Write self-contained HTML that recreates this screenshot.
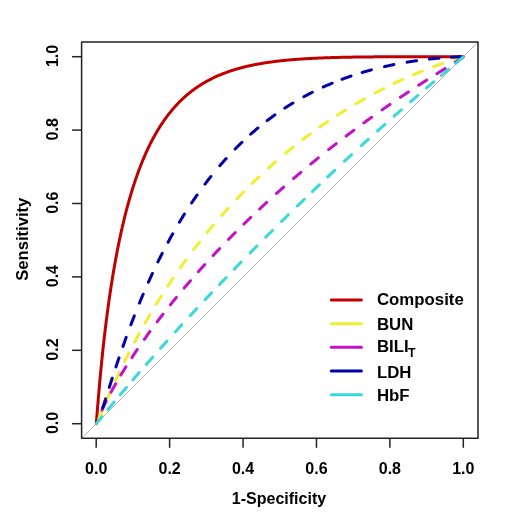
<!DOCTYPE html>
<html><head><meta charset="utf-8"><style>
html,body{margin:0;padding:0;background:#fff;}
svg{display:block;will-change:transform;}
text{font-family:"Liberation Sans",sans-serif;font-weight:bold;fill:#000;}
</style></head><body>
<svg width="520" height="520" viewBox="0 0 520 520">
<rect width="520" height="520" fill="#fff"/>
<line x1="81.6" y1="438.3" x2="478.0" y2="42.0" stroke="#b4b4b4" stroke-width="1"/>
<path d="M463.30,56.70 L463.12,56.70 L462.57,56.70 L462.02,56.70 L461.46,56.70 L460.91,56.70 L460.36,56.70 L459.81,56.70 L459.26,56.70 L458.71,56.70 L458.16,56.70 L457.61,56.70 L457.06,56.70 L456.51,56.70 L455.96,56.70 L455.41,56.70 L454.86,56.70 L454.31,56.70 L453.76,56.70 L453.20,56.70 L452.65,56.70 L452.10,56.70 L451.55,56.70 L451.00,56.70 L450.45,56.70 L449.90,56.70 L449.35,56.70 L448.80,56.70 L448.25,56.70 L447.70,56.70 L447.15,56.70 L446.60,56.70 L446.05,56.70 L445.50,56.70 L444.94,56.70 L444.39,56.70 L443.84,56.70 L443.29,56.70 L442.74,56.70 L442.19,56.70 L441.64,56.70 L441.09,56.70 L440.54,56.70 L439.99,56.70 L439.44,56.70 L438.89,56.70 L438.34,56.70 L437.79,56.70 L437.24,56.70 L436.69,56.70 L436.13,56.70 L435.58,56.70 L435.03,56.70 L434.48,56.70 L433.93,56.70 L433.38,56.70 L432.83,56.70 L432.28,56.70 L431.73,56.70 L431.18,56.70 L430.63,56.70 L430.08,56.70 L429.53,56.70 L428.98,56.70 L428.43,56.70 L427.87,56.70 L427.32,56.70 L426.77,56.71 L426.22,56.71 L425.67,56.71 L425.12,56.71 L424.57,56.71 L424.02,56.71 L423.47,56.71 L422.92,56.71 L422.37,56.71 L421.82,56.71 L421.27,56.71 L420.72,56.71 L420.17,56.71 L419.62,56.71 L419.06,56.71 L418.51,56.71 L417.96,56.71 L417.41,56.71 L416.86,56.71 L416.31,56.71 L415.76,56.71 L415.21,56.71 L414.66,56.72 L414.11,56.72 L413.56,56.72 L413.01,56.72 L412.46,56.72 L411.91,56.72 L411.36,56.72 L410.80,56.72 L410.25,56.72 L409.70,56.72 L409.15,56.72 L408.60,56.72 L408.05,56.73 L407.50,56.73 L406.95,56.73 L406.40,56.73 L405.85,56.73 L405.30,56.73 L404.75,56.73 L404.20,56.73 L403.65,56.73 L403.10,56.74 L402.54,56.74 L401.99,56.74 L401.44,56.74 L400.89,56.74 L400.34,56.74 L399.79,56.74 L399.24,56.74 L398.69,56.75 L398.14,56.75 L397.59,56.75 L397.04,56.75 L396.49,56.75 L395.94,56.75 L395.39,56.76 L394.84,56.76 L394.29,56.76 L393.73,56.76 L393.18,56.76 L392.63,56.77 L392.08,56.77 L391.53,56.77 L390.98,56.77 L390.43,56.77 L389.88,56.78 L389.33,56.78 L388.78,56.78 L388.23,56.78 L387.68,56.79 L387.13,56.79 L386.58,56.79 L386.03,56.79 L385.47,56.80 L384.92,56.80 L384.37,56.80 L383.82,56.81 L383.27,56.81 L382.72,56.81 L382.17,56.82 L381.62,56.82 L381.07,56.82 L380.52,56.83 L379.97,56.83 L379.42,56.83 L378.87,56.84 L378.32,56.84 L377.77,56.84 L377.22,56.85 L376.66,56.85 L376.11,56.86 L375.56,56.86 L375.01,56.86 L374.46,56.87 L373.91,56.87 L373.36,56.88 L372.81,56.88 L372.26,56.89 L371.71,56.89 L371.16,56.89 L370.61,56.90 L370.06,56.90 L369.51,56.91 L368.96,56.92 L368.40,56.92 L367.85,56.93 L367.30,56.93 L366.75,56.94 L366.20,56.94 L365.65,56.95 L365.10,56.95 L364.55,56.96 L364.00,56.97 L363.45,56.97 L362.90,56.98 L362.35,56.99 L361.80,56.99 L361.25,57.00 L360.70,57.01 L360.14,57.01 L359.59,57.02 L359.04,57.03 L358.49,57.03 L357.94,57.04 L357.39,57.05 L356.84,57.06 L356.29,57.07 L355.74,57.07 L355.19,57.08 L354.64,57.09 L354.09,57.10 L353.54,57.11 L352.99,57.12 L352.44,57.13 L351.89,57.13 L351.33,57.14 L350.78,57.15 L350.23,57.16 L349.68,57.17 L349.13,57.18 L348.58,57.19 L348.03,57.20 L347.48,57.21 L346.93,57.22 L346.38,57.23 L345.83,57.25 L345.28,57.26 L344.73,57.27 L344.18,57.28 L343.63,57.29 L343.07,57.30 L342.52,57.32 L341.97,57.33 L341.42,57.34 L340.87,57.35 L340.32,57.37 L339.77,57.38 L339.22,57.39 L338.67,57.41 L338.12,57.42 L337.57,57.43 L337.02,57.45 L336.47,57.46 L335.92,57.48 L335.37,57.49 L334.81,57.51 L334.26,57.52 L333.71,57.54 L333.16,57.55 L332.61,57.57 L332.06,57.59 L331.51,57.60 L330.96,57.62 L330.41,57.64 L329.86,57.66 L329.31,57.67 L328.76,57.69 L328.21,57.71 L327.66,57.73 L327.11,57.75 L326.56,57.77 L326.00,57.79 L325.45,57.81 L324.90,57.83 L324.35,57.85 L323.80,57.87 L323.25,57.89 L322.70,57.91 L322.15,57.93 L321.60,57.95 L321.05,57.97 L320.50,58.00 L319.95,58.02 L319.40,58.04 L318.85,58.07 L318.30,58.09 L317.74,58.11 L317.19,58.14 L316.64,58.16 L316.09,58.19 L315.54,58.21 L314.99,58.24 L314.44,58.27 L313.89,58.29 L313.34,58.32 L312.79,58.35 L312.24,58.38 L311.69,58.40 L311.14,58.43 L310.59,58.46 L310.04,58.49 L309.49,58.52 L308.93,58.55 L308.38,58.58 L307.83,58.61 L307.28,58.64 L306.73,58.68 L306.18,58.71 L305.63,58.74 L305.08,58.78 L304.53,58.81 L303.98,58.84 L303.43,58.88 L302.88,58.91 L302.33,58.95 L301.78,58.99 L301.23,59.02 L300.67,59.06 L300.12,59.10 L299.57,59.14 L299.02,59.17 L298.47,59.21 L297.92,59.25 L297.37,59.29 L296.82,59.33 L296.27,59.38 L295.72,59.42 L295.17,59.46 L294.62,59.50 L294.07,59.55 L293.52,59.59 L292.97,59.64 L292.41,59.68 L291.86,59.73 L291.31,59.78 L290.76,59.82 L290.21,59.87 L289.66,59.92 L289.11,59.97 L288.56,60.02 L288.01,60.07 L287.46,60.12 L286.91,60.17 L286.36,60.22 L285.81,60.28 L285.26,60.33 L284.71,60.39 L284.16,60.44 L283.60,60.50 L283.05,60.55 L282.50,60.61 L281.95,60.67 L281.40,60.73 L280.85,60.79 L280.30,60.85 L279.75,60.91 L279.20,60.97 L278.65,61.04 L278.10,61.10 L277.55,61.16 L277.00,61.23 L276.45,61.30 L275.90,61.36 L275.34,61.43 L274.79,61.50 L274.24,61.57 L273.69,61.64 L273.14,61.71 L272.59,61.78 L272.04,61.86 L271.49,61.93 L270.94,62.00 L270.39,62.08 L269.84,62.16 L269.29,62.24 L268.74,62.31 L268.19,62.39 L267.64,62.48 L267.09,62.56 L266.53,62.64 L265.98,62.72 L265.43,62.81 L264.88,62.89 L264.33,62.98 L263.78,63.07 L263.23,63.16 L262.68,63.25 L262.13,63.34 L261.58,63.43 L261.03,63.53 L260.48,63.62 L259.93,63.72 L259.38,63.82 L258.83,63.91 L258.27,64.01 L257.72,64.11 L257.17,64.22 L256.62,64.32 L256.07,64.42 L255.52,64.53 L254.97,64.64 L254.42,64.75 L253.87,64.85 L253.32,64.97 L252.77,65.08 L252.22,65.19 L251.67,65.31 L251.12,65.42 L250.57,65.54 L250.01,65.66 L249.46,65.78 L248.91,65.90 L248.36,66.03 L247.81,66.15 L247.26,66.28 L246.71,66.41 L246.16,66.54 L245.61,66.67 L245.06,66.80 L244.51,66.94 L243.96,67.07 L243.41,67.21 L242.86,67.35 L242.31,67.49 L241.76,67.64 L241.20,67.78 L240.65,67.93 L240.10,68.08 L239.55,68.23 L239.00,68.38 L238.45,68.53 L237.90,68.69 L237.35,68.84 L236.80,69.00 L236.25,69.16 L235.70,69.33 L235.15,69.49 L234.60,69.66 L234.05,69.83 L233.50,70.00 L232.94,70.17 L232.39,70.35 L231.84,70.52 L231.29,70.70 L230.74,70.88 L230.19,71.07 L229.64,71.25 L229.09,71.44 L228.54,71.63 L227.99,71.82 L227.44,72.02 L226.89,72.22 L226.34,72.41 L225.79,72.62 L225.24,72.82 L224.69,73.03 L224.13,73.24 L223.58,73.45 L223.03,73.66 L222.48,73.88 L221.93,74.10 L221.38,74.32 L220.83,74.54 L220.28,74.77 L219.73,75.00 L219.18,75.23 L218.63,75.47 L218.08,75.71 L217.53,75.95 L216.98,76.19 L216.43,76.44 L215.87,76.69 L215.32,76.94 L214.77,77.19 L214.22,77.45 L213.67,77.71 L213.12,77.98 L212.57,78.25 L212.02,78.52 L211.47,78.79 L210.92,79.07 L210.37,79.35 L209.82,79.63 L209.27,79.92 L208.72,80.21 L208.17,80.51 L207.61,80.80 L207.06,81.11 L206.51,81.41 L205.96,81.72 L205.41,82.03 L204.86,82.35 L204.31,82.67 L203.76,82.99 L203.21,83.32 L202.66,83.65 L202.11,83.98 L201.56,84.32 L201.01,84.67 L200.46,85.02 L199.91,85.37 L199.36,85.72 L198.80,86.08 L198.25,86.45 L197.70,86.82 L197.15,87.19 L196.60,87.57 L196.05,87.95 L195.50,88.34 L194.95,88.73 L194.40,89.13 L193.85,89.53 L193.30,89.93 L192.75,90.34 L192.20,90.76 L191.65,91.18 L191.10,91.61 L190.54,92.04 L189.99,92.47 L189.44,92.92 L188.89,93.36 L188.34,93.81 L187.79,94.27 L187.24,94.74 L186.69,95.21 L186.14,95.68 L185.59,96.16 L185.04,96.65 L184.49,97.14 L183.94,97.64 L183.39,98.14 L183.02,98.48 L182.65,98.83 L182.28,99.17 L181.92,99.52 L181.55,99.87 L181.18,100.23 L180.82,100.58 L180.45,100.94 L180.08,101.31 L179.72,101.67 L179.35,102.04 L178.98,102.41 L178.61,102.79 L178.25,103.17 L177.88,103.55 L177.51,103.93 L177.15,104.32 L176.78,104.71 L176.41,105.10 L176.04,105.50 L175.68,105.90 L175.31,106.31 L174.94,106.71 L174.58,107.12 L174.21,107.54 L173.84,107.96 L173.47,108.38 L173.11,108.80 L172.74,109.23 L172.37,109.66 L172.01,110.10 L171.64,110.54 L171.27,110.98 L170.90,111.43 L170.54,111.88 L170.17,112.33 L169.80,112.79 L169.44,113.25 L169.07,113.72 L168.70,114.19 L168.34,114.66 L167.97,115.14 L167.60,115.62 L167.23,116.11 L166.87,116.60 L166.50,117.09 L166.13,117.59 L165.77,118.09 L165.40,118.60 L165.03,119.11 L164.66,119.62 L164.30,120.15 L163.93,120.67 L163.56,121.20 L163.20,121.73 L162.83,122.27 L162.46,122.81 L162.09,123.36 L161.73,123.92 L161.36,124.47 L160.99,125.04 L160.63,125.60 L160.26,126.17 L159.89,126.75 L159.52,127.33 L159.16,127.92 L158.79,128.51 L158.42,129.11 L158.06,129.72 L157.69,130.32 L157.32,130.94 L156.96,131.56 L156.59,132.18 L156.22,132.81 L155.85,133.45 L155.49,134.09 L155.12,134.74 L154.75,135.39 L154.38,136.06 L154.02,136.72 L153.65,137.39 L153.28,138.06 L152.92,138.75 L152.55,139.44 L152.18,140.13 L151.82,140.83 L151.45,141.54 L151.08,142.26 L150.71,142.98 L150.35,143.71 L149.98,144.44 L149.61,145.18 L149.25,145.93 L148.88,146.69 L148.51,147.45 L148.14,148.22 L147.78,149.00 L147.41,149.78 L147.04,150.57 L146.68,151.37 L146.31,152.18 L145.94,152.99 L145.57,153.81 L145.21,154.64 L144.84,155.48 L144.47,156.33 L144.11,157.18 L143.74,158.04 L143.37,158.91 L143.01,159.79 L142.64,160.67 L142.42,161.22 L142.09,162.02 L141.72,162.93 L141.35,163.85 L140.99,164.77 L140.80,165.24 L140.62,165.71 L140.44,166.18 L140.25,166.65 L140.07,167.13 L139.88,167.60 L139.70,168.08 L139.52,168.57 L139.33,169.05 L139.15,169.54 L138.97,170.03 L138.78,170.52 L138.60,171.02 L138.42,171.51 L138.23,172.01 L138.05,172.52 L137.87,173.02 L137.68,173.53 L137.50,174.04 L137.32,174.55 L137.13,175.06 L136.95,175.58 L136.76,176.10 L136.58,176.62 L136.40,177.15 L136.21,177.68 L136.03,178.21 L135.85,178.74 L135.66,179.28 L135.48,179.82 L135.30,180.36 L135.11,180.90 L134.93,181.45 L134.75,182.00 L134.56,182.55 L134.38,183.11 L134.19,183.66 L134.01,184.22 L133.83,184.79 L133.64,185.36 L133.46,185.93 L133.28,186.50 L133.09,187.07 L132.91,187.65 L132.73,188.24 L132.54,188.82 L132.36,189.41 L132.18,190.00 L131.99,190.59 L131.81,191.19 L131.63,191.79 L131.44,192.40 L131.26,193.00 L131.07,193.61 L130.89,194.23 L130.71,194.84 L130.52,195.46 L130.34,196.09 L130.16,196.71 L129.97,197.34 L129.79,197.98 L129.61,198.61 L129.42,199.25 L129.24,199.90 L129.06,200.54 L128.87,201.19 L128.69,201.85 L128.50,202.51 L128.32,203.17 L128.14,203.83 L127.95,204.50 L127.77,205.17 L127.59,205.85 L127.40,206.53 L127.22,207.21 L127.04,207.90 L126.85,208.59 L126.67,209.28 L126.49,209.98 L126.30,210.69 L126.12,211.39 L125.94,212.10 L125.75,212.82 L125.57,213.54 L125.36,214.36 L125.20,214.99 L125.02,215.72 L124.83,216.45 L124.65,217.19 L124.47,217.93 L124.28,218.68 L124.10,219.43 L123.92,220.19 L123.73,220.95 L123.55,221.72 L123.37,222.49 L123.18,223.26 L123.00,224.04 L122.81,224.82 L122.63,225.61 L122.45,226.40 L122.26,227.20 L122.08,228.00 L121.90,228.81 L121.71,229.62 L121.53,230.44 L121.35,231.26 L121.16,232.08 L120.98,232.91 L120.80,233.75 L120.61,234.59 L120.43,235.44 L120.25,236.29 L120.06,237.15 L119.88,238.01 L119.69,238.87 L119.51,239.75 L119.33,240.62 L119.14,241.51 L118.96,242.40 L118.78,243.29 L118.59,244.19 L118.41,245.10 L118.23,246.01 L118.04,246.92 L117.86,247.85 L117.68,248.77 L117.49,249.71 L117.31,250.65 L117.12,251.60 L116.94,252.55 L116.76,253.51 L116.57,254.47 L116.39,255.44 L116.21,256.42 L116.02,257.40 L115.84,258.39 L115.66,259.39 L115.47,260.39 L115.29,261.40 L115.11,262.42 L114.92,263.44 L114.74,264.47 L114.56,265.51 L114.37,266.55 L114.19,267.60 L114.00,268.66 L113.82,269.73 L113.64,270.80 L113.45,271.88 L113.27,272.97 L113.09,274.06 L112.90,275.17 L112.72,276.28 L112.54,277.40 L112.35,278.52 L112.17,279.66 L111.99,280.80 L111.80,281.95 L111.62,283.11 L111.43,284.27 L111.25,285.45 L111.07,286.63 L110.81,288.28 L110.70,289.03 L110.52,290.24 L110.33,291.46 L110.15,292.68 L109.97,293.92 L109.78,295.17 L109.60,296.42 L109.42,297.69 L109.23,298.96 L109.05,300.25 L108.86,301.54 L108.68,302.85 L108.50,304.16 L108.31,305.49 L108.13,306.82 L107.95,308.17 L107.76,309.53 L107.58,310.89 L107.40,312.27 L107.21,313.66 L107.03,315.06 L106.85,316.47 L106.66,317.90 L106.48,319.33 L106.30,320.78 L106.11,322.24 L105.93,323.71 L105.74,325.20 L105.56,326.70 L105.38,328.20 L105.19,329.73 L105.01,331.26 L104.83,332.81 L104.64,334.38 L104.46,335.95 L104.28,337.54 L104.09,339.15 L103.91,340.77 L103.73,342.40 L103.52,344.21 L103.36,345.72 L103.17,347.40 L102.99,349.09 L102.81,350.81 L102.62,352.53 L102.44,354.28 L102.26,356.04 L102.07,357.82 L102.02,358.36 L101.89,359.62 L101.71,361.43 L101.52,363.26 L101.34,365.11 L101.16,366.98 L100.97,368.87 L100.79,370.77 L100.61,372.70 L100.42,374.65 L100.24,376.61 L100.05,378.60 L99.87,380.61 L99.69,382.64 L99.50,384.69 L99.32,386.76 L99.12,389.09 L98.95,390.97 L98.77,393.11 L98.59,395.27 L98.52,396.10 L98.40,397.45 L98.22,399.65 L98.04,401.88 L97.85,404.12 L97.66,406.47 L97.48,408.66 L97.36,410.20 L97.30,410.95 L97.12,413.24 L96.93,415.55 L96.75,417.80 L96.66,418.88 L96.57,420.02 L96.49,420.90 L96.43,421.58 L96.35,422.49 L96.27,423.20 L96.20,423.70" stroke="#C00000" stroke-width="3.0" fill="none" stroke-linecap="round" stroke-linejoin="round"/>
<path d="M463.30,56.70 L462.93,56.90 L462.38,57.10 L461.83,57.29 L461.28,57.47 L460.73,57.64 L460.18,57.82 L459.63,57.99 L459.08,58.16 L458.53,58.33 L457.98,58.50 L457.43,58.67 L456.88,58.85 L456.33,59.02 L455.77,59.19 L455.22,59.36 L454.67,59.54 L454.12,59.71 L453.57,59.88 L453.02,60.06 L452.47,60.23 L451.92,60.41 L451.37,60.59 L450.82,60.77 L450.27,60.94 L449.72,61.12 L449.17,61.30 L448.62,61.48 L448.07,61.67 L447.51,61.85 L446.96,62.03 L446.41,62.22 L445.86,62.40 L445.31,62.59 L444.76,62.77 L444.21,62.96 L443.66,63.15 L443.11,63.34 L442.56,63.53 L442.01,63.72 L441.46,63.91 L440.91,64.10 L440.36,64.29 L439.81,64.49 L439.25,64.68 L438.70,64.88 L438.15,65.07 L437.60,65.27 L437.05,65.47 L436.50,65.67 L435.95,65.87 L435.40,66.07 L434.85,66.27 L434.30,66.47 L433.75,66.67 L433.20,66.88 L432.65,67.08 L432.10,67.29 L431.55,67.49 L431.00,67.70 L430.44,67.91 L429.89,68.11 L429.34,68.32 L428.79,68.53 L428.24,68.75 L427.69,68.96 L427.14,69.17 L426.59,69.38 L426.04,69.60 L425.49,69.81 L424.94,70.03 L424.39,70.25 L423.84,70.46 L423.29,70.68 L422.74,70.90 L422.18,71.12 L421.63,71.34 L421.08,71.56 L420.53,71.79 L419.98,72.01 L419.43,72.23 L418.88,72.46 L418.33,72.69 L417.78,72.91 L417.23,73.14 L416.68,73.37 L416.13,73.60 L415.58,73.83 L415.03,74.06 L414.48,74.29 L413.93,74.52 L413.37,74.76 L412.82,74.99 L412.27,75.23 L411.72,75.46 L411.17,75.70 L410.62,75.94 L410.07,76.17 L409.52,76.41 L408.97,76.65 L408.42,76.89 L407.87,77.13 L407.32,77.38 L406.77,77.62 L406.22,77.86 L405.67,78.11 L405.11,78.36 L404.56,78.60 L404.01,78.85 L403.46,79.10 L402.91,79.35 L402.36,79.60 L401.81,79.85 L401.26,80.10 L400.71,80.35 L400.16,80.60 L399.61,80.86 L399.06,81.11 L398.51,81.37 L397.96,81.63 L397.41,81.88 L396.85,82.14 L396.30,82.40 L395.75,82.66 L395.20,82.92 L394.65,83.18 L394.10,83.45 L393.55,83.71 L393.00,83.97 L392.45,84.24 L391.90,84.50 L391.35,84.77 L390.80,85.04 L390.25,85.31 L389.70,85.58 L389.15,85.85 L388.60,86.12 L388.04,86.39 L387.49,86.66 L386.94,86.94 L386.39,87.21 L385.84,87.49 L385.29,87.76 L384.74,88.04 L384.19,88.32 L383.64,88.59 L383.09,88.87 L382.54,89.15 L381.99,89.44 L381.44,89.72 L380.89,90.00 L380.34,90.28 L379.78,90.57 L379.23,90.85 L378.68,91.14 L378.13,91.43 L377.58,91.72 L377.03,92.01 L376.48,92.30 L375.93,92.59 L375.38,92.88 L374.83,93.17 L374.28,93.46 L373.73,93.76 L373.18,94.05 L372.63,94.35 L372.08,94.65 L371.53,94.94 L370.97,95.24 L370.42,95.54 L369.87,95.84 L369.32,96.14 L368.77,96.45 L368.22,96.75 L367.67,97.05 L367.12,97.36 L366.57,97.66 L366.02,97.97 L365.47,98.28 L364.92,98.59 L364.37,98.90 L363.82,99.21 L363.27,99.52 L362.71,99.83 L362.16,100.14 L361.61,100.46 L361.06,100.77 L360.51,101.09 L359.96,101.40 L359.41,101.72 L358.86,102.04 L358.31,102.36 L357.76,102.68 L357.21,103.00 L356.66,103.32 L356.11,103.65 L355.56,103.97 L355.01,104.29 L354.45,104.62 L353.90,104.95 L353.35,105.27 L352.80,105.60 L352.25,105.93 L351.70,106.26 L351.15,106.59 L350.60,106.93 L350.05,107.26 L349.50,107.59 L348.95,107.93 L348.40,108.26 L347.85,108.60 L347.30,108.94 L346.75,109.28 L346.20,109.62 L345.64,109.96 L345.09,110.30 L344.54,110.64 L343.99,110.99 L343.44,111.33 L342.89,111.68 L342.34,112.02 L341.79,112.37 L341.24,112.72 L340.69,113.07 L340.14,113.42 L339.59,113.77 L339.04,114.12 L338.49,114.48 L337.94,114.83 L337.38,115.19 L336.83,115.54 L336.28,115.90 L335.73,116.26 L335.18,116.62 L334.63,116.98 L334.08,117.34 L333.53,117.70 L332.98,118.06 L332.43,118.43 L331.88,118.79 L331.33,119.16 L330.78,119.52 L330.23,119.89 L329.68,120.26 L329.12,120.63 L328.57,121.00 L328.02,121.37 L327.47,121.75 L326.92,122.12 L326.37,122.50 L325.82,122.87 L325.27,123.25 L324.72,123.63 L324.17,124.01 L323.62,124.39 L323.07,124.77 L322.52,125.15 L321.97,125.53 L321.42,125.92 L320.87,126.30 L320.31,126.69 L319.76,127.08 L319.21,127.46 L318.66,127.85 L318.11,128.24 L317.56,128.64 L317.01,129.03 L316.46,129.42 L315.91,129.82 L315.36,130.21 L314.81,130.61 L314.26,131.01 L313.71,131.41 L313.16,131.81 L312.61,132.21 L312.05,132.61 L311.50,133.01 L310.95,133.42 L310.40,133.82 L309.85,134.23 L309.30,134.64 L308.75,135.05 L308.20,135.46 L307.65,135.87 L307.10,136.28 L306.55,136.69 L306.00,137.11 L305.45,137.52 L304.90,137.94 L304.35,138.35 L303.80,138.77 L303.24,139.19 L302.69,139.61 L302.14,140.03 L301.59,140.46 L301.04,140.88 L300.49,141.31 L299.94,141.73 L299.39,142.16 L298.84,142.59 L298.29,143.02 L297.74,143.45 L297.19,143.88 L296.64,144.32 L296.09,144.75 L295.54,145.19 L294.98,145.62 L294.43,146.06 L293.88,146.50 L293.33,146.94 L292.78,147.38 L292.23,147.82 L291.68,148.27 L291.13,148.71 L290.58,149.16 L290.03,149.60 L289.48,150.05 L288.93,150.50 L288.38,150.95 L287.83,151.40 L287.28,151.86 L286.72,152.31 L286.17,152.77 L285.62,153.22 L285.07,153.68 L284.52,154.14 L283.97,154.60 L283.42,155.06 L282.87,155.52 L282.32,155.99 L281.77,156.45 L281.22,156.92 L280.67,157.39 L280.19,157.80 L279.75,158.17 L279.20,158.64 L278.65,159.11 L278.10,159.59 L277.55,160.06 L277.00,160.54 L276.45,161.01 L275.90,161.49 L275.34,161.97 L274.79,162.45 L274.24,162.94 L273.69,163.42 L273.14,163.90 L272.59,164.39 L272.04,164.88 L271.49,165.37 L270.94,165.86 L270.39,166.35 L269.84,166.84 L269.29,167.33 L268.74,167.83 L268.19,168.33 L267.64,168.82 L267.09,169.32 L266.53,169.82 L265.98,170.32 L265.43,170.83 L264.88,171.33 L264.33,171.84 L263.78,172.34 L263.23,172.85 L262.86,173.19 L262.50,173.53 L262.13,173.87 L261.76,174.22 L261.40,174.56 L261.03,174.90 L260.66,175.24 L260.29,175.59 L259.93,175.93 L259.56,176.28 L259.19,176.62 L258.83,176.97 L258.46,177.32 L258.09,177.66 L257.72,178.01 L257.36,178.36 L256.99,178.71 L256.62,179.06 L256.26,179.41 L255.89,179.76 L255.52,180.11 L255.15,180.47 L254.79,180.82 L254.42,181.17 L254.05,181.53 L253.69,181.88 L253.32,182.24 L252.95,182.60 L252.58,182.95 L252.22,183.31 L251.85,183.67 L251.48,184.03 L251.12,184.39 L250.75,184.75 L250.38,185.11 L250.01,185.47 L249.65,185.83 L249.28,186.19 L248.91,186.56 L248.55,186.92 L248.18,187.29 L247.81,187.65 L247.45,188.02 L247.08,188.39 L246.71,188.75 L246.34,189.12 L245.98,189.49 L245.61,189.86 L245.24,190.23 L244.88,190.60 L244.51,190.97 L244.14,191.34 L243.77,191.72 L243.41,192.09 L243.04,192.46 L242.67,192.84 L242.31,193.21 L241.94,193.59 L241.57,193.97 L241.20,194.34 L240.84,194.72 L240.47,195.10 L240.10,195.48 L239.74,195.86 L239.37,196.24 L239.00,196.62 L238.63,197.00 L238.27,197.39 L237.90,197.77 L237.53,198.15 L237.17,198.54 L236.80,198.93 L236.43,199.31 L236.07,199.70 L235.70,200.09 L235.33,200.47 L234.96,200.86 L234.60,201.25 L234.23,201.64 L233.86,202.04 L233.50,202.43 L233.13,202.82 L232.76,203.21 L232.39,203.61 L232.03,204.00 L231.66,204.40 L231.29,204.80 L230.93,205.19 L230.56,205.59 L230.19,205.99 L229.82,206.39 L229.46,206.79 L229.09,207.19 L228.72,207.59 L228.36,207.99 L227.99,208.39 L227.62,208.80 L227.25,209.20 L226.89,209.61 L226.52,210.01 L226.15,210.42 L225.79,210.83 L225.42,211.24 L225.05,211.64 L224.69,212.05 L224.32,212.46 L223.95,212.88 L223.58,213.29 L223.22,213.70 L222.85,214.11 L222.48,214.53 L222.12,214.94 L221.75,215.36 L221.38,215.78 L221.01,216.19 L220.65,216.61 L220.28,217.03 L219.91,217.45 L219.55,217.87 L219.18,218.29 L218.81,218.71 L218.44,219.14 L218.08,219.56 L217.71,219.98 L217.34,220.41 L216.98,220.83 L216.61,221.26 L216.24,221.69 L215.87,222.12 L215.51,222.55 L215.14,222.98 L214.77,223.41 L214.41,223.84 L214.04,224.27 L213.67,224.70 L213.30,225.14 L212.94,225.57 L212.57,226.01 L212.20,226.44 L211.84,226.88 L211.47,227.32 L211.10,227.76 L210.74,228.20 L210.37,228.64 L210.00,229.08 L209.63,229.52 L209.27,229.97 L208.90,230.41 L208.53,230.86 L208.17,231.30 L207.80,231.75 L207.43,232.19 L207.06,232.64 L206.70,233.09 L206.33,233.54 L205.96,233.99 L205.60,234.44 L205.23,234.90 L204.86,235.35 L204.49,235.80 L204.13,236.26 L203.76,236.72 L203.39,237.17 L203.03,237.63 L202.66,238.09 L202.29,238.55 L201.92,239.01 L201.56,239.47 L201.19,239.93 L200.82,240.40 L200.46,240.86 L200.09,241.32 L199.72,241.79 L199.36,242.26 L198.99,242.72 L198.62,243.19 L198.25,243.66 L197.89,244.13 L197.52,244.60 L197.15,245.08 L196.79,245.55 L196.42,246.02 L196.05,246.50 L195.68,246.97 L195.32,247.45 L194.95,247.93 L194.58,248.41 L194.22,248.89 L193.85,249.37 L193.48,249.85 L193.11,250.33 L192.75,250.82 L192.38,251.30 L192.01,251.79 L191.65,252.27 L191.28,252.76 L190.91,253.25 L190.54,253.74 L190.18,254.23 L189.81,254.72 L189.44,255.21 L189.08,255.71 L188.71,256.20 L188.34,256.69 L187.98,257.19 L187.61,257.69 L187.24,258.19 L186.87,258.69 L186.51,259.19 L186.14,259.69 L185.77,260.19 L185.41,260.69 L185.04,261.20 L184.67,261.70 L184.30,262.21 L183.94,262.72 L183.57,263.22 L183.20,263.73 L182.84,264.24 L182.47,264.76 L182.10,265.27 L181.73,265.78 L181.37,266.30 L181.00,266.81 L180.63,267.33 L180.27,267.85 L179.90,268.37 L179.53,268.89 L179.16,269.41 L178.80,269.93 L178.43,270.45 L178.06,270.98 L177.70,271.50 L177.33,272.03 L176.96,272.56 L176.59,273.09 L176.23,273.62 L175.86,274.15 L175.49,274.68 L175.13,275.21 L174.76,275.75 L174.39,276.28 L174.03,276.82 L173.66,277.36 L173.29,277.90 L172.92,278.44 L172.56,278.98 L172.19,279.52 L171.82,280.06 L171.46,280.61 L171.09,281.15 L170.72,281.70 L170.35,282.25 L169.99,282.80 L169.62,283.35 L169.25,283.90 L168.89,284.45 L168.52,285.01 L168.15,285.56 L167.78,286.12 L167.42,286.68 L167.05,287.24 L166.68,287.80 L166.32,288.36 L165.95,288.92 L165.58,289.48 L165.21,290.05 L164.85,290.61 L164.48,291.18 L164.11,291.75 L163.75,292.32 L163.38,292.89 L163.01,293.46 L162.65,294.04 L162.28,294.61 L161.91,295.19 L161.54,295.77 L161.18,296.35 L160.81,296.93 L160.44,297.51 L160.08,298.09 L159.71,298.67 L159.34,299.26 L158.97,299.85 L158.61,300.44 L158.24,301.02 L157.87,301.62 L157.51,302.21 L157.14,302.80 L156.77,303.40 L156.40,303.99 L156.04,304.59 L155.67,305.19 L155.30,305.79 L154.94,306.39 L154.57,306.99 L154.20,307.60 L153.83,308.20 L153.47,308.81 L153.10,309.42 L152.73,310.03 L152.37,310.64 L152.00,311.25 L151.63,311.87 L151.27,312.48 L150.90,313.10 L150.53,313.72 L150.16,314.34 L149.80,314.96 L149.43,315.58 L149.06,316.21 L148.70,316.83 L148.33,317.46 L147.96,318.09 L147.59,318.72 L147.23,319.35 L146.86,319.99 L146.49,320.62 L146.13,321.26 L145.76,321.90 L145.39,322.54 L145.02,323.18 L144.66,323.82 L144.29,324.46 L143.92,325.11 L143.56,325.76 L143.19,326.41 L142.82,327.06 L142.42,327.78 L142.09,328.36 L141.72,329.02 L141.35,329.67 L140.99,330.33 L140.62,330.99 L140.25,331.66 L139.88,332.32 L139.52,332.98 L139.15,333.65 L138.78,334.32 L138.42,334.99 L138.05,335.66 L137.68,336.34 L137.32,337.01 L136.95,337.69 L136.58,338.37 L136.21,339.05 L135.85,339.73 L135.48,340.42 L135.11,341.10 L134.75,341.79 L134.38,342.48 L134.01,343.17 L133.64,343.86 L133.28,344.56 L132.91,345.25 L132.54,345.95 L132.18,346.65 L131.81,347.36 L131.44,348.06 L131.07,348.77 L130.71,349.47 L130.34,350.18 L129.97,350.89 L129.61,351.61 L129.24,352.32 L128.87,353.04 L128.50,353.76 L128.14,354.48 L127.77,355.20 L127.40,355.93 L127.04,356.66 L126.67,357.38 L126.30,358.12 L125.94,358.85 L125.57,359.58 L125.20,360.32 L124.83,361.06 L124.47,361.80 L124.10,362.54 L123.73,363.29 L123.37,364.04 L123.00,364.78 L122.63,365.54 L122.26,366.29 L121.90,367.04 L121.53,367.80 L121.16,368.56 L120.80,369.32 L120.43,370.09 L120.06,370.85 L119.69,371.62 L119.33,372.39 L118.96,373.17 L118.59,373.94 L118.23,374.72 L117.86,375.50 L117.49,376.28 L117.12,377.06 L116.76,377.85 L116.39,378.64 L116.02,379.43 L115.66,380.22 L115.29,381.01 L114.92,381.81 L114.60,382.52 L114.37,383.01 L114.00,383.81 L113.64,384.62 L113.27,385.43 L112.90,386.24 L112.54,387.05 L112.17,387.86 L111.80,388.68 L111.43,389.50 L111.07,390.32 L110.70,391.14 L110.33,391.97 L109.97,392.80 L109.60,393.63 L109.23,394.46 L108.86,395.29 L108.50,396.13 L108.13,396.97 L107.81,397.70 L107.58,398.23 L107.21,399.07 L106.85,399.92 L106.48,400.76 L106.11,401.61 L105.74,402.47 L105.42,403.22 L105.19,403.74 L104.83,404.60 L104.46,405.46 L104.09,406.31 L103.73,407.17 L103.36,408.03 L102.99,408.89 L102.62,409.76 L102.26,410.62 L101.89,411.48 L101.52,412.34 L101.16,413.20 L100.79,414.06 L100.42,414.91 L100.05,415.77 L99.69,416.61 L99.32,417.46 L99.12,417.92 L98.77,418.71 L98.40,419.53 L98.04,420.34 L97.66,421.14 L97.30,421.88 L96.93,422.60 L96.57,423.25 L96.20,423.70" stroke="#F0EE30" stroke-width="3.0" fill="none" stroke-linecap="round" stroke-linejoin="round" stroke-dasharray="9.60 12.31 9.60 12.28 9.60 11.65 9.60 11.40 9.60 12.50 9.60 12.30 9.60 11.46 9.60 11.78 9.60 12.29 9.60 13.05 9.60 12.72 9.60 12.11 9.60 12.92 9.60 12.78 9.60 12.35 9.60 12.85 9.60 12.58 9.60 11.98 9.60 12.07 9.60 12.29 9.60 12.21 9.60 11.98 9.60 11.34 9.60 10.77 9.60 5000.00" stroke-dashoffset="0.30"/>
<path d="M463.30,56.70 L463.12,56.93 L462.57,57.40 L462.02,57.81 L461.46,58.21 L460.91,58.59 L460.36,58.96 L459.81,59.33 L459.26,59.69 L458.71,60.05 L458.16,60.41 L457.61,60.76 L457.06,61.11 L456.51,61.46 L455.96,61.81 L455.41,62.16 L454.86,62.51 L454.31,62.85 L453.76,63.20 L453.20,63.54 L452.65,63.88 L452.10,64.23 L451.55,64.57 L451.00,64.91 L450.45,65.25 L449.90,65.59 L449.35,65.94 L448.80,66.28 L448.25,66.62 L447.70,66.96 L447.15,67.30 L446.60,67.64 L446.05,67.98 L445.50,68.32 L444.94,68.67 L444.39,69.01 L443.84,69.35 L443.29,69.69 L442.74,70.03 L442.19,70.37 L441.64,70.72 L441.09,71.06 L440.54,71.40 L439.99,71.74 L439.44,72.09 L438.89,72.43 L438.34,72.77 L437.79,73.12 L437.24,73.46 L436.69,73.81 L436.13,74.15 L435.58,74.50 L435.03,74.84 L434.48,75.19 L433.93,75.53 L433.38,75.88 L432.83,76.22 L432.28,76.57 L431.73,76.92 L431.18,77.26 L430.63,77.61 L430.08,77.96 L429.53,78.31 L428.98,78.66 L428.43,79.01 L427.87,79.36 L427.32,79.71 L426.77,80.06 L426.22,80.41 L425.67,80.76 L425.12,81.11 L424.57,81.46 L424.02,81.81 L423.47,82.16 L422.92,82.52 L422.37,82.87 L421.82,83.22 L421.27,83.58 L420.72,83.93 L420.17,84.29 L419.62,84.64 L419.06,85.00 L418.51,85.35 L417.96,85.71 L417.41,86.07 L416.86,86.42 L416.31,86.78 L415.76,87.14 L415.21,87.50 L414.66,87.86 L414.11,88.21 L413.56,88.57 L413.01,88.93 L412.46,89.29 L411.91,89.66 L411.36,90.02 L410.80,90.38 L410.25,90.74 L409.70,91.10 L409.15,91.47 L408.60,91.83 L408.05,92.19 L407.50,92.56 L406.95,92.92 L406.40,93.29 L405.85,93.65 L405.30,94.02 L404.75,94.39 L404.20,94.75 L403.65,95.12 L403.10,95.49 L402.54,95.86 L401.99,96.22 L401.44,96.59 L400.89,96.96 L400.34,97.33 L399.79,97.70 L399.24,98.07 L398.69,98.44 L398.14,98.82 L397.59,99.19 L397.04,99.56 L396.49,99.93 L395.94,100.31 L395.39,100.68 L394.84,101.06 L394.29,101.43 L393.73,101.81 L393.18,102.18 L392.63,102.56 L392.08,102.94 L391.53,103.31 L390.98,103.69 L390.43,104.07 L389.88,104.45 L389.33,104.83 L388.78,105.21 L388.23,105.59 L387.80,105.88 L387.31,106.22 L386.76,106.60 L386.21,106.98 L385.66,107.36 L385.11,107.75 L384.56,108.13 L384.01,108.51 L383.46,108.90 L382.91,109.28 L382.35,109.67 L381.80,110.05 L381.25,110.44 L380.70,110.82 L380.15,111.21 L379.60,111.60 L379.05,111.99 L378.50,112.38 L377.95,112.76 L377.40,113.15 L376.85,113.54 L376.30,113.93 L375.75,114.32 L375.20,114.71 L374.65,115.11 L374.09,115.50 L373.54,115.89 L372.99,116.28 L372.44,116.68 L371.89,117.07 L371.34,117.47 L370.79,117.86 L370.24,118.26 L369.69,118.65 L369.14,119.05 L368.59,119.45 L368.04,119.84 L367.49,120.24 L366.94,120.64 L366.39,121.04 L365.83,121.44 L365.28,121.84 L364.73,122.24 L364.18,122.64 L363.63,123.04 L363.08,123.44 L362.53,123.85 L361.98,124.25 L361.43,124.65 L360.88,125.06 L360.33,125.46 L359.78,125.87 L359.23,126.27 L358.68,126.68 L358.13,127.08 L357.58,127.49 L357.02,127.90 L356.47,128.31 L355.92,128.72 L355.37,129.12 L354.82,129.53 L354.27,129.94 L353.72,130.36 L353.17,130.77 L352.62,131.18 L352.07,131.59 L351.52,132.00 L350.97,132.42 L350.42,132.83 L349.87,133.24 L349.32,133.66 L348.76,134.07 L348.21,134.49 L347.66,134.91 L347.11,135.32 L346.56,135.74 L346.01,136.16 L345.46,136.58 L344.91,137.00 L344.36,137.42 L343.81,137.84 L343.26,138.26 L342.71,138.68 L342.16,139.10 L341.61,139.52 L341.06,139.94 L340.51,140.37 L339.95,140.79 L339.40,141.21 L338.85,141.64 L338.30,142.06 L337.75,142.49 L337.20,142.92 L336.65,143.34 L336.10,143.77 L335.55,144.20 L335.00,144.63 L334.45,145.06 L333.90,145.49 L333.35,145.92 L332.80,146.35 L332.25,146.78 L331.69,147.21 L331.14,147.64 L330.59,148.08 L330.04,148.51 L329.49,148.94 L328.94,149.38 L328.39,149.81 L327.82,150.26 L327.29,150.69 L326.74,151.12 L326.19,151.56 L325.64,152.00 L325.09,152.44 L324.54,152.88 L323.99,153.32 L323.43,153.76 L322.88,154.20 L322.33,154.64 L321.78,155.08 L321.23,155.52 L320.68,155.97 L320.13,156.41 L319.58,156.86 L319.03,157.30 L318.48,157.75 L317.93,158.19 L317.38,158.64 L316.83,159.09 L316.28,159.53 L315.73,159.98 L315.18,160.43 L314.62,160.88 L314.07,161.33 L313.52,161.78 L312.97,162.23 L312.42,162.68 L311.87,163.14 L311.32,163.59 L310.77,164.04 L310.22,164.50 L309.67,164.95 L309.12,165.41 L308.57,165.86 L308.02,166.32 L307.47,166.78 L306.92,167.24 L306.36,167.69 L305.81,168.15 L305.26,168.61 L304.71,169.07 L304.16,169.53 L303.61,170.00 L303.06,170.46 L302.51,170.92 L301.96,171.38 L301.41,171.85 L300.86,172.31 L300.31,172.78 L299.76,173.24 L299.21,173.71 L298.66,174.18 L298.11,174.65 L297.55,175.11 L297.00,175.58 L296.45,176.05 L295.90,176.52 L295.35,176.99 L294.80,177.46 L294.25,177.94 L293.70,178.41 L293.15,178.88 L292.60,179.36 L292.05,179.83 L291.50,180.31 L290.95,180.78 L290.40,181.26 L289.85,181.74 L289.29,182.21 L288.74,182.69 L288.19,183.17 L287.64,183.65 L287.09,184.13 L286.54,184.61 L285.99,185.10 L285.44,185.58 L284.89,186.06 L284.34,186.55 L283.79,187.03 L283.24,187.52 L282.69,188.00 L282.14,188.49 L281.59,188.97 L281.03,189.46 L280.48,189.95 L279.93,190.44 L279.38,190.93 L278.83,191.42 L278.28,191.91 L277.73,192.40 L277.18,192.90 L276.63,193.39 L276.08,193.88 L275.53,194.38 L274.98,194.87 L274.43,195.37 L273.88,195.87 L273.33,196.36 L272.78,196.86 L272.22,197.36 L271.67,197.86 L271.12,198.36 L270.57,198.86 L270.02,199.36 L269.47,199.87 L268.92,200.37 L268.37,200.87 L267.82,201.38 L267.27,201.88 L266.72,202.39 L266.17,202.90 L265.62,203.40 L265.07,203.91 L264.52,204.42 L264.15,204.76 L263.78,205.10 L263.41,205.44 L263.05,205.78 L262.68,206.12 L262.31,206.46 L261.95,206.81 L261.58,207.15 L261.21,207.49 L260.84,207.83 L260.48,208.18 L260.11,208.52 L259.74,208.86 L259.38,209.21 L259.01,209.55 L258.64,209.90 L258.27,210.24 L257.91,210.59 L257.54,210.93 L257.17,211.28 L256.81,211.62 L256.44,211.97 L256.07,212.32 L255.70,212.67 L255.34,213.01 L254.97,213.36 L254.60,213.71 L254.24,214.06 L253.87,214.41 L253.50,214.76 L253.14,215.11 L252.77,215.46 L252.40,215.81 L252.03,216.16 L251.67,216.51 L251.30,216.86 L250.93,217.21 L250.57,217.57 L250.20,217.92 L249.83,218.27 L249.46,218.62 L249.10,218.98 L248.73,219.33 L248.36,219.69 L248.00,220.04 L247.63,220.40 L247.26,220.75 L246.89,221.11 L246.53,221.46 L246.16,221.82 L245.79,222.18 L245.43,222.54 L245.06,222.89 L244.69,223.25 L244.32,223.61 L243.96,223.97 L243.59,224.33 L243.22,224.69 L242.86,225.05 L242.49,225.41 L242.12,225.77 L241.76,226.13 L241.39,226.49 L241.02,226.85 L240.65,227.21 L240.29,227.58 L239.92,227.94 L239.55,228.30 L239.19,228.67 L238.82,229.03 L238.45,229.39 L238.08,229.76 L237.72,230.12 L237.35,230.49 L236.98,230.85 L236.62,231.22 L236.25,231.59 L235.88,231.95 L235.51,232.32 L235.15,232.69 L234.78,233.06 L234.41,233.43 L234.05,233.80 L233.68,234.16 L233.31,234.53 L232.94,234.90 L232.58,235.27 L232.21,235.65 L231.84,236.02 L231.48,236.39 L231.11,236.76 L230.74,237.13 L230.38,237.51 L230.01,237.88 L229.64,238.25 L229.27,238.63 L228.91,239.00 L228.54,239.38 L228.17,239.75 L227.81,240.13 L227.44,240.50 L227.07,240.88 L226.70,241.26 L226.34,241.63 L225.97,242.01 L225.60,242.39 L225.24,242.77 L224.87,243.15 L224.50,243.53 L224.13,243.91 L223.77,244.29 L223.40,244.67 L223.03,245.05 L222.67,245.43 L222.30,245.81 L221.93,246.20 L221.56,246.58 L221.20,246.96 L220.83,247.35 L220.46,247.73 L220.10,248.11 L219.73,248.50 L219.36,248.88 L218.99,249.27 L218.63,249.66 L218.26,250.04 L217.89,250.43 L217.53,250.82 L217.16,251.21 L216.79,251.59 L216.43,251.98 L216.06,252.37 L215.69,252.76 L215.32,253.15 L214.96,253.54 L214.59,253.93 L214.22,254.33 L213.86,254.72 L213.49,255.11 L213.12,255.50 L212.75,255.90 L212.39,256.29 L212.02,256.68 L211.65,257.08 L211.29,257.47 L210.92,257.87 L210.55,258.27 L210.18,258.66 L209.82,259.06 L209.45,259.46 L209.08,259.86 L208.72,260.25 L208.35,260.65 L207.98,261.05 L207.61,261.45 L207.25,261.85 L206.88,262.25 L206.51,262.65 L206.15,263.06 L205.78,263.46 L205.41,263.86 L205.05,264.26 L204.68,264.67 L204.31,265.07 L203.94,265.48 L203.58,265.88 L203.21,266.29 L202.84,266.69 L202.48,267.10 L202.11,267.51 L201.74,267.92 L201.37,268.32 L201.01,268.73 L200.64,269.14 L200.27,269.55 L199.91,269.96 L199.54,270.37 L199.17,270.78 L198.80,271.20 L198.44,271.61 L198.07,272.02 L197.70,272.43 L197.34,272.85 L196.97,273.26 L196.60,273.68 L196.23,274.09 L195.87,274.51 L195.50,274.93 L195.13,275.34 L194.77,275.76 L194.40,276.18 L194.03,276.60 L193.67,277.02 L193.30,277.44 L192.93,277.86 L192.56,278.28 L192.20,278.70 L191.83,279.12 L191.46,279.54 L191.10,279.96 L190.73,280.39 L190.36,280.81 L189.99,281.24 L189.63,281.66 L189.26,282.09 L188.89,282.51 L188.53,282.94 L188.16,283.37 L187.79,283.80 L187.42,284.22 L187.06,284.65 L186.69,285.08 L186.32,285.51 L185.96,285.94 L185.59,286.38 L185.22,286.81 L184.85,287.24 L184.49,287.67 L184.12,288.11 L183.75,288.54 L183.39,288.98 L183.02,289.41 L182.65,289.85 L182.28,290.29 L181.92,290.72 L181.55,291.16 L181.18,291.60 L180.82,292.04 L180.45,292.48 L180.08,292.92 L179.72,293.36 L179.35,293.80 L178.98,294.24 L178.61,294.69 L178.25,295.13 L177.88,295.58 L177.51,296.02 L177.15,296.47 L176.78,296.91 L176.41,297.36 L176.04,297.81 L175.68,298.25 L175.31,298.70 L174.94,299.15 L174.58,299.60 L174.21,300.05 L173.84,300.51 L173.47,300.96 L173.11,301.41 L172.74,301.86 L172.37,302.32 L172.01,302.77 L171.64,303.23 L171.27,303.68 L170.90,304.14 L170.54,304.60 L170.17,305.06 L169.80,305.52 L169.44,305.98 L169.07,306.44 L168.70,306.90 L168.34,307.36 L167.97,307.82 L167.60,308.28 L167.23,308.75 L166.87,309.21 L166.50,309.68 L166.13,310.14 L165.77,310.61 L165.40,311.08 L165.03,311.55 L164.66,312.02 L164.30,312.49 L163.93,312.96 L163.56,313.43 L163.20,313.90 L162.83,314.37 L162.46,314.85 L162.09,315.32 L161.73,315.80 L161.36,316.27 L160.99,316.75 L160.63,317.23 L160.26,317.71 L159.89,318.18 L159.52,318.66 L159.16,319.15 L158.79,319.63 L158.42,320.11 L158.06,320.59 L157.69,321.08 L157.32,321.56 L156.96,322.05 L156.59,322.53 L156.22,323.02 L155.85,323.51 L155.49,324.00 L155.12,324.49 L154.75,324.98 L154.38,325.48 L154.02,325.96 L153.65,326.46 L153.28,326.95 L152.92,327.45 L152.55,327.94 L152.18,328.44 L151.82,328.94 L151.45,329.44 L151.08,329.94 L150.71,330.44 L150.35,330.94 L149.98,331.44 L149.61,331.95 L149.25,332.45 L148.88,332.96 L148.51,333.46 L148.14,333.97 L147.78,334.48 L147.41,334.99 L147.04,335.50 L146.68,336.01 L146.31,336.52 L145.94,337.04 L145.57,337.55 L145.21,338.07 L144.84,338.58 L144.47,339.10 L144.11,339.62 L143.74,340.14 L143.37,340.66 L143.01,341.18 L142.64,341.70 L142.27,342.23 L141.90,342.75 L141.54,343.28 L141.17,343.81 L140.80,344.33 L140.44,344.86 L140.07,345.39 L139.70,345.93 L139.33,346.46 L138.97,346.99 L138.60,347.53 L138.23,348.07 L137.87,348.60 L137.50,349.14 L137.13,349.68 L136.76,350.22 L136.40,350.77 L136.03,351.31 L135.66,351.85 L135.30,352.40 L134.93,352.95 L134.56,353.50 L134.19,354.05 L133.83,354.60 L133.46,355.15 L133.09,355.71 L132.73,356.26 L132.36,356.82 L131.99,357.38 L131.63,357.94 L131.26,358.50 L130.89,359.06 L130.52,359.62 L130.16,360.19 L129.79,360.75 L129.42,361.32 L129.06,361.89 L128.69,362.46 L128.32,363.04 L127.95,363.61 L127.59,364.19 L127.22,364.76 L126.85,365.34 L126.49,365.92 L126.12,366.50 L125.75,367.09 L125.36,367.71 L125.02,368.26 L124.65,368.85 L124.28,369.44 L123.92,370.03 L123.55,370.63 L123.18,371.22 L122.81,371.82 L122.45,372.42 L122.08,373.02 L121.71,373.62 L121.35,374.23 L120.98,374.83 L120.61,375.44 L120.25,376.05 L119.88,376.67 L119.51,377.28 L119.14,377.90 L118.78,378.52 L118.41,379.14 L118.04,379.76 L117.68,380.39 L117.31,381.01 L116.94,381.64 L116.57,382.28 L116.21,382.91 L115.84,383.55 L115.47,384.19 L115.11,384.83 L114.74,385.47 L114.37,386.12 L114.00,386.77 L113.64,387.42 L113.27,388.07 L112.90,388.73 L112.54,389.39 L112.17,390.05 L111.80,390.72 L111.43,391.39 L111.07,392.06 L110.81,392.53 L110.52,393.07 L110.15,393.75 L109.78,394.44 L109.42,395.12 L109.05,395.81 L108.68,396.51 L108.31,397.20 L107.95,397.90 L107.58,398.61 L107.21,399.32 L106.85,400.03 L106.48,400.74 L106.11,401.47 L105.74,402.19 L105.42,402.83 L105.19,403.29 L104.83,404.02 L104.46,404.77 L104.09,405.51 L103.73,406.27 L103.36,407.02 L102.99,407.79 L102.62,408.56 L102.26,409.33 L101.89,410.12 L101.52,410.91 L101.16,411.71 L100.79,412.51 L100.42,413.33 L100.05,414.15 L99.69,414.98 L99.32,415.83 L99.12,416.30 L98.77,417.11 L98.52,417.72 L98.22,418.43 L97.85,419.33 L97.48,420.25 L97.30,420.72 L97.12,421.19 L96.93,421.68 L96.75,422.16 L96.57,422.66 L96.38,423.18 L96.20,423.70" stroke="#C410C8" stroke-width="3.0" fill="none" stroke-linecap="round" stroke-linejoin="round" stroke-dasharray="9.60 11.99 9.60 12.03 9.60 12.25 9.60 12.59 9.60 12.86 9.60 12.45 9.60 12.58 9.60 13.26 9.60 12.97 9.60 13.04 9.60 13.34 9.60 12.25 9.60 11.99 9.60 12.76 9.60 12.36 9.60 12.01 9.60 12.14 9.60 11.88 9.60 12.20 9.60 12.46 9.60 11.07 9.60 10.07 9.60 10.49 9.60 5000.00" stroke-dashoffset="-0.20"/>
<path d="M463.30,56.70 L462.75,56.71 L462.20,56.73 L461.65,56.75 L461.10,56.76 L460.55,56.78 L460.00,56.80 L459.45,56.82 L458.89,56.84 L458.34,56.86 L457.79,56.89 L457.24,56.91 L456.69,56.94 L456.14,56.96 L455.59,56.99 L455.04,57.02 L454.49,57.04 L453.94,57.07 L453.39,57.10 L452.84,57.13 L452.29,57.16 L451.74,57.20 L451.19,57.23 L450.64,57.26 L450.08,57.30 L449.53,57.33 L448.98,57.37 L448.43,57.40 L447.88,57.44 L447.33,57.48 L446.78,57.52 L446.23,57.55 L445.68,57.59 L445.13,57.64 L444.58,57.68 L444.03,57.72 L443.48,57.76 L442.93,57.80 L442.38,57.85 L441.82,57.89 L441.27,57.94 L440.72,57.98 L440.17,58.03 L439.62,58.08 L439.07,58.13 L438.52,58.18 L437.97,58.23 L437.42,58.28 L436.87,58.33 L436.32,58.38 L435.77,58.43 L435.22,58.48 L434.67,58.54 L434.12,58.59 L433.56,58.65 L433.01,58.70 L432.46,58.76 L431.91,58.82 L431.36,58.88 L430.81,58.93 L430.26,58.99 L429.71,59.05 L429.16,59.12 L428.61,59.18 L428.06,59.24 L427.51,59.30 L426.96,59.37 L426.41,59.43 L425.86,59.50 L425.31,59.56 L424.75,59.63 L424.20,59.70 L423.65,59.76 L423.10,59.83 L422.55,59.90 L422.00,59.97 L421.45,60.04 L420.90,60.12 L420.35,60.19 L419.80,60.26 L419.25,60.34 L418.70,60.41 L418.15,60.49 L417.60,60.56 L417.05,60.64 L416.49,60.72 L415.94,60.80 L415.39,60.87 L414.84,60.95 L414.29,61.04 L413.74,61.12 L413.19,61.20 L412.64,61.28 L412.09,61.37 L411.54,61.45 L410.99,61.54 L410.44,61.62 L409.89,61.71 L409.34,61.80 L408.79,61.89 L408.24,61.97 L407.68,62.06 L407.13,62.16 L406.58,62.25 L406.03,62.34 L405.48,62.43 L404.93,62.53 L404.38,62.62 L403.83,62.72 L403.28,62.81 L402.73,62.91 L402.18,63.01 L401.63,63.11 L401.08,63.21 L400.53,63.31 L399.98,63.41 L399.42,63.51 L398.87,63.62 L398.32,63.72 L397.77,63.82 L397.22,63.93 L396.67,64.04 L396.12,64.14 L395.57,64.25 L395.02,64.36 L394.47,64.47 L393.92,64.58 L393.37,64.69 L392.82,64.80 L392.27,64.92 L391.72,65.03 L391.16,65.15 L390.61,65.26 L390.06,65.38 L389.51,65.50 L388.96,65.61 L388.41,65.73 L387.86,65.85 L387.31,65.97 L386.76,66.10 L386.21,66.22 L385.66,66.34 L385.11,66.47 L384.56,66.59 L384.01,66.72 L383.46,66.85 L382.91,66.97 L382.35,67.10 L381.80,67.23 L381.25,67.36 L380.70,67.50 L380.15,67.63 L379.60,67.76 L379.05,67.90 L378.50,68.03 L377.95,68.17 L377.40,68.31 L376.85,68.44 L376.30,68.58 L375.75,68.72 L375.20,68.87 L374.65,69.01 L374.09,69.15 L373.54,69.29 L372.99,69.44 L372.44,69.59 L371.89,69.73 L371.34,69.88 L370.79,70.03 L370.24,70.18 L369.69,70.33 L369.14,70.48 L368.59,70.64 L368.04,70.79 L367.49,70.94 L366.94,71.10 L366.39,71.26 L365.83,71.42 L365.28,71.57 L364.73,71.73 L364.18,71.90 L363.63,72.06 L363.08,72.22 L362.53,72.39 L361.98,72.55 L361.43,72.72 L360.88,72.88 L360.33,73.05 L359.78,73.22 L359.23,73.39 L358.68,73.56 L358.13,73.74 L357.58,73.91 L357.02,74.08 L356.47,74.26 L355.92,74.44 L355.37,74.62 L354.82,74.79 L354.27,74.97 L353.72,75.16 L353.17,75.34 L352.62,75.52 L352.07,75.71 L351.52,75.89 L350.97,76.08 L350.42,76.27 L349.87,76.46 L349.32,76.65 L348.76,76.84 L348.21,77.03 L347.66,77.22 L347.11,77.42 L346.56,77.61 L346.01,77.81 L345.46,78.01 L344.91,78.21 L344.36,78.41 L343.81,78.61 L343.26,78.82 L342.71,79.02 L342.16,79.22 L341.61,79.43 L341.06,79.64 L340.51,79.85 L339.95,80.06 L339.40,80.27 L338.85,80.48 L338.30,80.70 L337.75,80.91 L337.20,81.13 L336.65,81.34 L336.10,81.56 L335.55,81.78 L335.00,82.00 L334.45,82.23 L333.90,82.45 L333.35,82.68 L332.80,82.90 L332.25,83.13 L331.69,83.36 L331.14,83.59 L330.59,83.82 L330.04,84.05 L329.49,84.29 L328.94,84.52 L328.39,84.76 L327.82,85.00 L327.29,85.24 L326.74,85.48 L326.19,85.72 L325.64,85.96 L325.09,86.21 L324.54,86.45 L323.99,86.70 L323.43,86.95 L322.88,87.20 L322.33,87.45 L321.78,87.70 L321.23,87.96 L320.68,88.21 L320.13,88.47 L319.58,88.73 L319.03,88.99 L318.48,89.25 L317.93,89.51 L317.38,89.77 L316.83,90.04 L316.28,90.31 L315.73,90.57 L315.18,90.84 L314.62,91.11 L314.07,91.39 L313.52,91.66 L312.97,91.94 L312.42,92.21 L311.87,92.49 L311.32,92.77 L310.77,93.05 L310.22,93.34 L309.67,93.62 L309.12,93.91 L308.57,94.19 L308.02,94.48 L307.47,94.77 L306.92,95.06 L306.36,95.36 L305.81,95.65 L305.26,95.95 L304.71,96.25 L304.16,96.55 L303.61,96.85 L303.06,97.15 L302.51,97.46 L301.96,97.76 L301.41,98.07 L300.86,98.38 L300.31,98.69 L299.76,99.00 L299.21,99.31 L298.66,99.63 L298.11,99.95 L297.55,100.27 L297.00,100.59 L296.45,100.91 L295.90,101.23 L295.35,101.56 L294.80,101.89 L294.25,102.21 L293.70,102.54 L293.15,102.88 L292.60,103.21 L292.05,103.55 L291.50,103.88 L290.95,104.22 L290.40,104.56 L289.85,104.91 L289.29,105.25 L288.74,105.60 L288.19,105.94 L287.64,106.29 L287.09,106.64 L286.54,107.00 L285.99,107.35 L285.44,107.71 L284.89,108.07 L284.34,108.43 L283.79,108.79 L283.24,109.15 L282.69,109.52 L282.14,109.89 L281.59,110.26 L281.03,110.63 L280.48,111.00 L279.93,111.38 L279.38,111.75 L278.83,112.13 L278.28,112.51 L277.73,112.89 L277.18,113.28 L276.63,113.67 L276.08,114.05 L275.53,114.44 L274.98,114.84 L274.43,115.23 L273.88,115.63 L273.33,116.02 L272.78,116.42 L272.22,116.83 L271.67,117.23 L271.12,117.64 L270.57,118.04 L270.02,118.46 L269.47,118.87 L268.92,119.28 L268.37,119.70 L267.82,120.12 L267.27,120.54 L266.72,120.96 L266.17,121.38 L265.62,121.81 L265.07,122.24 L264.52,122.67 L263.96,123.10 L263.41,123.54 L262.86,123.97 L262.31,124.41 L261.76,124.86 L261.21,125.30 L260.66,125.75 L260.11,126.19 L259.56,126.64 L259.01,127.10 L258.46,127.55 L257.91,128.01 L257.36,128.47 L256.81,128.93 L256.26,129.39 L255.70,129.86 L255.15,130.33 L254.60,130.80 L254.05,131.27 L253.50,131.74 L252.95,132.22 L252.40,132.70 L251.85,133.18 L251.30,133.67 L250.75,134.16 L250.20,134.64 L249.65,135.14 L249.10,135.63 L248.55,136.13 L248.00,136.63 L247.45,137.13 L246.89,137.63 L246.34,138.14 L245.79,138.65 L245.43,138.99 L245.06,139.33 L244.69,139.67 L244.32,140.01 L243.96,140.36 L243.59,140.71 L243.22,141.05 L242.86,141.40 L242.49,141.75 L242.12,142.10 L241.76,142.45 L241.39,142.81 L241.02,143.16 L240.65,143.51 L240.29,143.87 L239.92,144.23 L239.55,144.59 L239.19,144.95 L238.82,145.31 L238.45,145.67 L238.08,146.03 L237.72,146.40 L237.35,146.76 L236.98,147.13 L236.62,147.50 L236.25,147.87 L235.88,148.24 L235.51,148.61 L235.15,148.98 L234.78,149.36 L234.41,149.73 L234.05,150.11 L233.68,150.48 L233.31,150.86 L232.94,151.24 L232.58,151.62 L232.21,152.01 L231.84,152.39 L231.48,152.78 L231.11,153.16 L230.74,153.55 L230.38,153.94 L230.01,154.33 L229.64,154.72 L229.27,155.11 L228.91,155.51 L228.54,155.90 L228.17,156.30 L227.81,156.70 L227.44,157.09 L227.07,157.49 L226.70,157.90 L226.34,158.30 L225.97,158.70 L225.60,159.11 L225.24,159.51 L224.87,159.92 L224.50,160.33 L224.13,160.74 L223.77,161.15 L223.40,161.57 L223.03,161.98 L222.67,162.40 L222.30,162.82 L221.93,163.24 L221.56,163.66 L221.20,164.08 L220.83,164.50 L220.46,164.92 L220.10,165.35 L219.73,165.78 L219.36,166.20 L218.99,166.63 L218.63,167.07 L218.26,167.50 L217.89,167.93 L217.53,168.37 L217.16,168.80 L216.79,169.24 L216.43,169.68 L216.06,170.12 L215.69,170.56 L215.32,171.01 L214.96,171.45 L214.59,171.90 L214.22,172.35 L213.86,172.80 L213.49,173.25 L213.12,173.70 L212.75,174.16 L212.39,174.61 L212.02,175.07 L211.65,175.53 L211.29,175.99 L210.92,176.45 L210.55,176.91 L210.18,177.38 L209.82,177.84 L209.45,178.31 L209.08,178.78 L208.72,179.25 L208.35,179.72 L207.98,180.20 L207.61,180.67 L207.25,181.15 L206.88,181.63 L206.51,182.11 L206.15,182.59 L205.78,183.07 L205.41,183.55 L205.05,184.04 L204.68,184.53 L204.31,185.02 L203.94,185.51 L203.58,186.00 L203.21,186.49 L202.84,186.99 L202.48,187.49 L202.11,187.99 L201.74,188.49 L201.37,188.99 L201.01,189.49 L200.64,190.00 L200.27,190.51 L199.91,191.02 L199.54,191.53 L199.17,192.04 L198.80,192.55 L198.44,193.07 L198.07,193.58 L197.70,194.10 L197.34,194.62 L196.97,195.15 L196.60,195.67 L196.23,196.20 L195.87,196.72 L195.50,197.25 L195.13,197.78 L194.77,198.32 L194.40,198.85 L194.03,199.39 L193.67,199.93 L193.30,200.47 L192.93,201.01 L192.56,201.55 L192.20,202.10 L191.83,202.64 L191.46,203.19 L191.10,203.74 L190.73,204.29 L190.36,204.85 L189.99,205.40 L189.63,205.96 L189.26,206.52 L188.89,207.08 L188.53,207.65 L188.16,208.21 L187.79,208.78 L187.42,209.35 L187.06,209.92 L186.69,210.49 L186.32,211.07 L185.96,211.64 L185.59,212.22 L185.22,212.80 L184.85,213.39 L184.49,213.97 L184.12,214.56 L183.75,215.14 L183.39,215.73 L183.02,216.33 L182.65,216.92 L182.28,217.52 L181.92,218.12 L181.55,218.72 L181.18,219.32 L180.82,219.92 L180.45,220.53 L180.08,221.14 L179.72,221.75 L179.35,222.36 L178.98,222.97 L178.61,223.59 L178.25,224.21 L177.88,224.83 L177.51,225.45 L177.15,226.08 L176.78,226.70 L176.41,227.33 L176.04,227.96 L175.68,228.60 L175.31,229.23 L174.94,229.87 L174.58,230.51 L174.21,231.15 L173.84,231.79 L173.47,232.44 L173.11,233.09 L172.74,233.74 L172.37,234.39 L172.01,235.05 L171.64,235.70 L171.27,236.36 L170.90,237.02 L170.54,237.69 L170.17,238.35 L169.80,239.02 L169.44,239.69 L169.07,240.37 L168.70,241.04 L168.34,241.72 L167.97,242.40 L167.60,243.08 L167.23,243.76 L166.87,244.45 L166.50,245.14 L166.13,245.83 L165.77,246.53 L165.40,247.22 L165.03,247.92 L164.66,248.62 L164.30,249.32 L163.93,250.03 L163.56,250.74 L163.20,251.45 L162.83,252.16 L162.46,252.88 L162.09,253.60 L161.73,254.32 L161.36,255.04 L160.99,255.76 L160.63,256.49 L160.26,257.22 L159.89,257.95 L159.52,258.69 L159.16,259.43 L158.79,260.17 L158.42,260.91 L158.06,261.66 L157.69,262.41 L157.32,263.16 L156.96,263.91 L156.59,264.67 L156.22,265.42 L155.85,266.18 L155.49,266.95 L155.12,267.72 L154.75,268.48 L154.38,269.26 L154.02,270.03 L153.65,270.81 L153.28,271.59 L152.92,272.37 L152.55,273.16 L152.18,273.94 L151.82,274.73 L151.45,275.53 L151.08,276.32 L150.71,277.12 L150.35,277.93 L149.98,278.73 L149.61,279.54 L149.25,280.35 L148.88,281.16 L148.51,281.98 L148.14,282.80 L147.78,283.62 L147.41,284.44 L147.04,285.27 L146.68,286.10 L146.31,286.93 L145.94,287.77 L145.57,288.61 L145.21,289.45 L144.84,290.30 L144.47,291.15 L144.11,292.00 L143.74,292.85 L143.37,293.71 L143.01,294.57 L142.64,295.43 L142.27,296.30 L141.90,297.17 L141.54,298.04 L141.17,298.91 L140.80,299.79 L140.44,300.67 L140.07,301.56 L139.70,302.45 L139.33,303.34 L138.97,304.23 L138.60,305.13 L138.23,306.03 L137.87,306.93 L137.50,307.84 L137.13,308.75 L136.76,309.66 L136.40,310.58 L136.03,311.50 L135.66,312.42 L135.30,313.35 L134.93,314.28 L134.75,314.74 L134.56,315.21 L134.38,315.68 L134.19,316.15 L134.01,316.61 L133.83,317.08 L133.64,317.56 L133.46,318.03 L133.28,318.50 L133.09,318.97 L132.91,319.45 L132.73,319.92 L132.54,320.40 L132.36,320.87 L132.18,321.35 L131.99,321.83 L131.81,322.31 L131.63,322.79 L131.44,323.27 L131.26,323.75 L131.07,324.23 L130.89,324.72 L130.71,325.20 L130.52,325.69 L130.34,326.17 L130.16,326.66 L129.97,327.15 L129.79,327.63 L129.61,328.12 L129.42,328.61 L129.24,329.10 L129.06,329.60 L128.87,330.09 L128.69,330.58 L128.50,331.08 L128.32,331.57 L128.14,332.07 L127.95,332.56 L127.77,333.06 L127.59,333.56 L127.40,334.06 L127.22,334.56 L127.04,335.06 L126.85,335.56 L126.67,336.07 L126.49,336.57 L126.30,337.07 L126.12,337.58 L125.94,338.09 L125.75,338.59 L125.57,339.10 L125.38,339.61 L125.20,340.12 L125.02,340.63 L124.83,341.14 L124.65,341.65 L124.47,342.17 L124.28,342.68 L124.10,343.20 L123.92,343.71 L123.73,344.23 L123.55,344.75 L123.37,345.26 L123.18,345.78 L123.00,346.30 L122.81,346.82 L122.63,347.34 L122.45,347.87 L122.26,348.39 L122.08,348.91 L121.90,349.44 L121.71,349.97 L121.53,350.49 L121.35,351.02 L121.16,351.55 L120.98,352.08 L120.80,352.61 L120.61,353.14 L120.43,353.67 L120.25,354.20 L120.06,354.74 L119.88,355.27 L119.69,355.81 L119.51,356.34 L119.33,356.88 L119.14,357.42 L118.96,357.96 L118.78,358.49 L118.59,359.03 L118.41,359.58 L118.23,360.12 L118.04,360.66 L117.86,361.20 L117.68,361.75 L117.49,362.29 L117.31,362.84 L117.12,363.38 L116.94,363.93 L116.76,364.48 L116.57,365.03 L116.39,365.58 L116.21,366.13 L116.02,366.68 L115.84,367.23 L115.66,367.78 L115.47,368.34 L115.29,368.89 L115.11,369.45 L114.92,370.00 L114.74,370.56 L114.56,371.12 L114.37,371.67 L114.19,372.23 L114.00,372.79 L113.82,373.35 L113.64,373.91 L113.45,374.47 L113.27,375.03 L113.09,375.60 L112.90,376.16 L112.72,376.72 L112.54,377.29 L112.35,377.85 L112.17,378.42 L111.99,378.98 L111.80,379.55 L111.62,380.12 L111.43,380.69 L111.25,381.25 L111.07,381.82 L110.88,382.39 L110.70,382.96 L110.52,383.53 L110.33,384.10 L110.15,384.67 L109.97,385.25 L109.78,385.82 L109.60,386.39 L109.42,386.96 L109.23,387.54 L109.05,388.11 L108.86,388.68 L108.68,389.26 L108.50,389.83 L108.31,390.40 L108.13,390.98 L107.95,391.55 L107.76,392.13 L107.58,392.70 L107.40,393.28 L107.21,393.85 L107.03,394.43 L106.85,395.00 L106.66,395.58 L106.48,396.15 L106.30,396.73 L106.11,397.30 L105.93,397.87 L105.74,398.45 L105.56,399.02 L105.38,399.59 L105.19,400.16 L105.01,400.74 L104.83,401.31 L104.64,401.88 L104.46,402.45 L104.28,403.02 L104.09,403.58 L103.91,404.15 L103.73,404.72 L103.52,405.33 L103.36,405.84 L103.17,406.41 L102.99,406.97 L102.81,407.52 L102.62,408.08 L102.44,408.64 L102.26,409.19 L102.07,409.74 L101.89,410.29 L101.71,410.84 L101.52,411.38 L101.34,411.92 L101.16,412.46 L100.97,412.99 L100.79,413.52 L100.61,414.05 L100.42,414.57 L100.24,415.09 L100.05,415.60 L99.87,416.11 L99.69,416.61 L99.50,417.11 L99.32,417.60 L99.14,418.08 L98.95,418.56 L98.77,419.02 L98.40,419.93 L98.04,420.78 L97.66,421.60 L97.36,422.20 L97.12,422.65 L96.66,423.34 L96.20,423.70" stroke="#0000A8" stroke-width="3.0" fill="none" stroke-linecap="round" stroke-linejoin="round" stroke-dasharray="9.60 12.42 9.60 12.94 9.60 13.40 9.60 13.51 9.60 11.74 9.60 10.59 9.60 12.17 9.60 12.56 9.60 12.02 9.60 11.82 9.60 11.79 9.60 13.10 9.60 14.06 9.60 13.48 9.60 13.30 9.60 13.28 9.60 12.65 9.60 12.75 9.60 13.12 9.60 13.76 9.60 13.42 9.60 12.10 9.60 11.95 9.60 12.01 9.60 5000.00" stroke-dashoffset="-2.36"/>
<path d="M463.30,56.70 L462.93,57.08 L462.38,57.59 L461.83,58.08 L461.28,58.56 L460.73,59.04 L460.18,59.51 L459.63,59.98 L459.08,60.45 L458.53,60.92 L457.98,61.39 L457.43,61.85 L456.88,62.32 L456.33,62.78 L455.77,63.24 L455.22,63.71 L454.67,64.17 L454.12,64.63 L453.57,65.10 L453.02,65.56 L452.47,66.02 L451.92,66.48 L451.37,66.95 L450.82,67.41 L450.27,67.87 L449.72,68.33 L449.17,68.79 L448.62,69.26 L448.07,69.72 L447.51,70.18 L446.96,70.64 L446.41,71.11 L445.86,71.57 L445.31,72.03 L444.76,72.50 L444.21,72.96 L443.66,73.42 L443.11,73.89 L442.56,74.35 L442.01,74.82 L441.46,75.28 L440.91,75.75 L440.36,76.21 L439.81,76.68 L439.25,77.14 L438.70,77.61 L438.15,78.07 L437.60,78.54 L437.05,79.01 L436.50,79.47 L435.95,79.94 L435.40,80.41 L434.85,80.87 L434.30,81.34 L433.75,81.81 L433.20,82.28 L432.65,82.75 L432.10,83.22 L431.55,83.68 L431.00,84.15 L430.44,84.62 L429.89,85.09 L429.34,85.56 L428.79,86.03 L428.24,86.50 L427.69,86.97 L427.14,87.44 L426.59,87.92 L426.04,88.39 L425.49,88.86 L424.94,89.33 L424.39,89.80 L423.84,90.28 L423.29,90.75 L422.74,91.22 L422.18,91.70 L421.63,92.17 L421.08,92.64 L420.53,93.12 L419.98,93.59 L419.43,94.07 L418.88,94.54 L418.33,95.02 L417.78,95.49 L417.23,95.97 L416.68,96.44 L416.13,96.92 L415.58,97.40 L415.03,97.87 L414.48,98.35 L413.93,98.83 L413.37,99.31 L412.82,99.79 L412.27,100.26 L411.72,100.74 L411.17,101.22 L410.62,101.70 L410.07,102.18 L409.52,102.66 L408.97,103.14 L408.42,103.62 L407.87,104.10 L407.32,104.58 L406.77,105.06 L406.22,105.54 L405.67,106.03 L405.11,106.51 L404.56,106.99 L404.01,107.47 L403.46,107.95 L402.91,108.44 L402.36,108.92 L401.81,109.40 L401.26,109.89 L400.71,110.37 L400.16,110.86 L399.61,111.34 L399.06,111.83 L398.51,112.31 L397.96,112.80 L397.41,113.28 L396.85,113.77 L396.30,114.25 L395.75,114.74 L395.20,115.23 L394.65,115.71 L394.10,116.20 L393.55,116.69 L393.00,117.18 L392.45,117.67 L391.90,118.15 L391.35,118.64 L390.80,119.13 L390.25,119.62 L389.70,120.11 L389.15,120.60 L388.60,121.09 L388.04,121.58 L387.49,122.07 L386.94,122.56 L386.39,123.05 L385.84,123.54 L385.29,124.04 L384.74,124.53 L384.19,125.02 L383.64,125.51 L383.09,126.01 L382.54,126.50 L381.99,126.99 L381.44,127.49 L380.89,127.98 L380.34,128.47 L379.78,128.97 L379.23,129.46 L378.68,129.96 L378.13,130.45 L377.58,130.95 L377.03,131.44 L376.48,131.94 L375.93,132.44 L375.38,132.93 L374.83,133.43 L374.28,133.93 L373.73,134.42 L373.18,134.92 L372.63,135.42 L372.08,135.92 L371.53,136.42 L370.97,136.91 L370.42,137.41 L369.87,137.91 L369.32,138.41 L368.77,138.91 L368.22,139.41 L367.67,139.91 L367.12,140.41 L366.57,140.91 L366.02,141.41 L365.47,141.92 L364.92,142.42 L364.37,142.92 L363.82,143.42 L363.27,143.92 L362.71,144.43 L362.16,144.93 L361.61,145.43 L361.06,145.94 L360.51,146.44 L359.96,146.94 L359.41,147.45 L358.86,147.95 L358.31,148.46 L357.76,148.96 L357.21,149.47 L356.66,149.97 L356.11,150.48 L355.56,150.99 L355.01,151.49 L354.45,152.00 L353.90,152.51 L353.35,153.01 L352.80,153.52 L352.25,154.03 L351.70,154.54 L351.15,155.05 L350.60,155.55 L350.05,156.06 L349.50,156.57 L349.13,156.91 L348.76,157.25 L348.40,157.59 L348.03,157.93 L347.66,158.27 L347.30,158.61 L346.93,158.95 L346.56,159.29 L346.20,159.63 L345.83,159.97 L345.46,160.31 L345.09,160.66 L344.73,161.00 L344.36,161.34 L343.99,161.68 L343.63,162.02 L343.26,162.36 L342.89,162.70 L342.52,163.04 L342.16,163.39 L341.79,163.73 L341.42,164.07 L341.06,164.41 L340.69,164.76 L340.32,165.10 L339.95,165.44 L339.59,165.78 L339.22,166.13 L338.85,166.47 L338.49,166.81 L338.12,167.15 L337.75,167.50 L337.38,167.84 L337.02,168.18 L336.65,168.53 L336.28,168.87 L335.92,169.22 L335.55,169.56 L335.18,169.90 L334.81,170.25 L334.45,170.59 L334.08,170.94 L333.71,171.28 L333.35,171.63 L332.98,171.97 L332.61,172.32 L332.25,172.66 L331.88,173.01 L331.51,173.35 L331.14,173.70 L330.78,174.04 L330.41,174.39 L330.04,174.73 L329.68,175.08 L329.31,175.43 L328.94,175.77 L328.57,176.12 L328.21,176.46 L327.84,176.81 L327.47,177.16 L327.11,177.50 L326.74,177.85 L326.37,178.20 L326.00,178.55 L325.64,178.89 L325.27,179.24 L324.90,179.59 L324.54,179.93 L324.17,180.28 L323.80,180.63 L323.43,180.98 L323.07,181.33 L322.70,181.67 L322.33,182.02 L321.97,182.37 L321.60,182.72 L321.23,183.07 L320.87,183.42 L320.50,183.77 L320.13,184.11 L319.76,184.46 L319.40,184.81 L319.03,185.16 L318.66,185.51 L318.30,185.86 L317.93,186.21 L317.56,186.56 L317.19,186.91 L316.83,187.26 L316.46,187.61 L316.09,187.96 L315.73,188.31 L315.36,188.66 L314.99,189.01 L314.62,189.36 L314.26,189.72 L313.89,190.07 L313.52,190.42 L313.16,190.77 L312.79,191.12 L312.42,191.47 L312.05,191.82 L311.69,192.17 L311.32,192.53 L310.95,192.88 L310.59,193.23 L310.22,193.58 L309.85,193.94 L309.49,194.29 L309.12,194.64 L308.75,194.99 L308.38,195.35 L308.02,195.70 L307.65,196.05 L307.28,196.41 L306.92,196.76 L306.55,197.11 L306.18,197.47 L305.81,197.82 L305.45,198.17 L305.08,198.53 L304.71,198.88 L304.35,199.24 L303.98,199.59 L303.61,199.94 L303.24,200.30 L302.88,200.65 L302.51,201.01 L302.14,201.36 L301.78,201.72 L301.41,202.07 L301.04,202.43 L300.67,202.78 L300.31,203.14 L299.94,203.50 L299.57,203.85 L299.21,204.21 L298.84,204.56 L298.47,204.92 L298.11,205.28 L297.74,205.63 L297.37,205.99 L297.00,206.35 L296.64,206.70 L296.27,207.06 L295.90,207.42 L295.54,207.77 L295.17,208.13 L294.80,208.49 L294.43,208.85 L294.07,209.20 L293.70,209.56 L293.33,209.92 L292.97,210.28 L292.60,210.63 L292.23,210.99 L291.86,211.35 L291.50,211.71 L291.13,212.07 L290.76,212.43 L290.40,212.79 L290.03,213.15 L289.66,213.50 L289.29,213.86 L288.93,214.22 L288.56,214.58 L288.19,214.94 L287.83,215.30 L287.46,215.66 L287.09,216.02 L286.72,216.38 L286.36,216.74 L285.99,217.10 L285.62,217.46 L285.26,217.82 L284.89,218.18 L284.52,218.54 L284.16,218.91 L283.79,219.27 L283.42,219.63 L283.05,219.99 L282.69,220.35 L282.32,220.71 L281.95,221.07 L281.59,221.44 L281.22,221.80 L280.85,222.16 L280.48,222.52 L280.12,222.88 L279.75,223.25 L279.38,223.61 L279.02,223.97 L278.65,224.34 L278.28,224.70 L277.91,225.06 L277.55,225.42 L277.18,225.79 L276.81,226.15 L276.45,226.52 L276.08,226.88 L275.71,227.24 L275.34,227.61 L274.98,227.97 L274.61,228.34 L274.24,228.70 L273.88,229.06 L273.51,229.43 L273.14,229.79 L272.78,230.16 L272.41,230.52 L272.04,230.89 L271.67,231.25 L271.31,231.62 L270.94,231.98 L270.57,232.35 L270.21,232.72 L269.84,233.08 L269.47,233.45 L269.10,233.81 L268.74,234.18 L268.37,234.55 L268.00,234.91 L267.64,235.28 L267.27,235.65 L266.90,236.01 L266.53,236.38 L266.17,236.75 L265.80,237.12 L265.43,237.48 L265.07,237.85 L264.70,238.22 L264.33,238.59 L263.96,238.95 L263.60,239.32 L263.23,239.69 L262.86,240.06 L262.50,240.43 L262.13,240.80 L261.76,241.16 L261.40,241.53 L261.03,241.90 L260.66,242.27 L260.29,242.64 L259.93,243.01 L259.56,243.38 L259.19,243.75 L258.83,244.12 L258.46,244.49 L258.09,244.86 L257.72,245.23 L257.36,245.60 L256.99,245.97 L256.62,246.34 L256.26,246.71 L255.89,247.08 L255.52,247.45 L255.15,247.82 L254.79,248.19 L254.42,248.57 L254.05,248.94 L253.69,249.31 L253.32,249.68 L252.95,250.05 L252.58,250.42 L252.22,250.80 L251.85,251.17 L251.48,251.54 L251.12,251.91 L250.75,252.29 L250.38,252.66 L250.01,253.03 L249.65,253.41 L249.28,253.78 L248.91,254.15 L248.55,254.53 L248.18,254.90 L247.81,255.27 L247.45,255.65 L247.08,256.02 L246.71,256.40 L246.34,256.77 L245.98,257.14 L245.61,257.52 L245.24,257.89 L244.88,258.27 L244.51,258.64 L244.14,259.02 L243.77,259.39 L243.41,259.77 L243.04,260.14 L242.67,260.52 L242.31,260.90 L241.94,261.27 L241.57,261.65 L241.20,262.02 L240.84,262.40 L240.47,262.78 L240.10,263.15 L239.74,263.53 L239.37,263.91 L239.00,264.28 L238.63,264.66 L238.27,265.04 L237.90,265.42 L237.53,265.79 L237.17,266.17 L236.80,266.55 L236.43,266.93 L236.07,267.30 L235.70,267.68 L235.33,268.06 L234.96,268.44 L234.60,268.82 L234.23,269.20 L233.86,269.58 L233.50,269.95 L233.13,270.33 L232.76,270.71 L232.39,271.09 L232.03,271.47 L231.66,271.85 L231.29,272.23 L230.93,272.61 L230.56,272.99 L230.19,273.37 L229.82,273.75 L229.46,274.13 L229.09,274.51 L228.72,274.90 L228.36,275.28 L227.99,275.66 L227.62,276.04 L227.25,276.42 L226.89,276.80 L226.52,277.18 L226.15,277.57 L225.79,277.95 L225.42,278.33 L225.05,278.71 L224.69,279.09 L224.32,279.48 L223.95,279.86 L223.58,280.24 L223.22,280.63 L222.85,281.01 L222.48,281.39 L222.12,281.78 L221.75,282.16 L221.38,282.54 L221.01,282.93 L220.65,283.31 L220.28,283.70 L219.91,284.08 L219.55,284.46 L219.18,284.85 L218.81,285.23 L218.44,285.62 L218.08,286.00 L217.71,286.39 L217.34,286.77 L216.98,287.16 L216.61,287.54 L216.24,287.93 L215.87,288.32 L215.51,288.70 L215.14,289.09 L214.77,289.48 L214.41,289.86 L214.04,290.25 L213.67,290.64 L213.30,291.02 L212.94,291.41 L212.57,291.80 L212.20,292.18 L211.84,292.57 L211.47,292.96 L211.10,293.35 L210.74,293.73 L210.37,294.12 L210.00,294.51 L209.63,294.90 L209.27,295.29 L208.90,295.68 L208.53,296.07 L208.17,296.45 L207.80,296.84 L207.43,297.23 L207.06,297.62 L206.70,298.01 L206.33,298.40 L205.96,298.79 L205.60,299.18 L205.23,299.57 L204.86,299.96 L204.49,300.35 L204.13,300.74 L203.76,301.14 L203.39,301.53 L203.03,301.92 L202.66,302.31 L202.29,302.70 L201.92,303.09 L201.56,303.48 L201.19,303.88 L200.82,304.27 L200.46,304.66 L200.09,305.05 L199.72,305.45 L199.36,305.84 L198.99,306.23 L198.62,306.62 L198.25,307.02 L197.89,307.41 L197.52,307.80 L197.15,308.20 L196.79,308.59 L196.42,308.99 L196.05,309.38 L195.68,309.77 L195.32,310.17 L194.95,310.56 L194.58,310.96 L194.22,311.35 L193.85,311.75 L193.48,312.14 L193.11,312.54 L192.75,312.93 L192.38,313.33 L192.01,313.73 L191.65,314.12 L191.28,314.52 L190.91,314.91 L190.54,315.31 L190.18,315.71 L189.81,316.10 L189.44,316.50 L189.08,316.90 L188.71,317.30 L188.34,317.69 L187.98,318.09 L187.61,318.49 L187.24,318.89 L186.87,319.29 L186.51,319.68 L186.14,320.08 L185.77,320.48 L185.41,320.88 L185.04,321.28 L184.67,321.68 L184.30,322.08 L183.94,322.48 L183.57,322.88 L183.20,323.28 L182.84,323.68 L182.47,324.08 L182.10,324.48 L181.73,324.88 L181.37,325.28 L181.00,325.68 L180.63,326.08 L180.27,326.48 L179.90,326.88 L179.53,327.29 L179.16,327.69 L178.80,328.09 L178.43,328.49 L178.06,328.89 L177.70,329.30 L177.33,329.70 L176.96,330.10 L176.59,330.50 L176.23,330.91 L175.86,331.31 L175.49,331.71 L175.13,332.12 L174.76,332.52 L174.39,332.93 L174.03,333.33 L173.66,333.73 L173.29,334.14 L172.92,334.54 L172.56,334.95 L172.19,335.35 L171.82,335.76 L171.46,336.16 L171.09,336.57 L170.72,336.98 L170.35,337.38 L169.99,337.79 L169.62,338.19 L169.25,338.60 L168.89,339.01 L168.52,339.41 L168.15,339.82 L167.78,340.23 L167.42,340.64 L167.05,341.04 L166.68,341.45 L166.32,341.86 L165.95,342.27 L165.58,342.68 L165.21,343.08 L164.85,343.49 L164.48,343.90 L164.11,344.31 L163.75,344.72 L163.38,345.13 L163.01,345.54 L162.65,345.95 L162.28,346.36 L161.91,346.77 L161.54,347.18 L161.18,347.59 L160.81,348.00 L160.44,348.41 L160.08,348.82 L159.71,349.24 L159.34,349.65 L158.97,350.06 L158.61,350.47 L158.24,350.88 L157.87,351.29 L157.51,351.71 L157.14,352.12 L156.77,352.53 L156.40,352.95 L156.04,353.36 L155.67,353.77 L155.30,354.19 L154.94,354.60 L154.57,355.02 L154.20,355.43 L153.83,355.84 L153.47,356.26 L153.10,356.67 L152.73,357.09 L152.37,357.50 L152.00,357.92 L151.63,358.34 L151.27,358.75 L150.90,359.17 L150.53,359.58 L150.16,360.00 L149.80,360.42 L149.43,360.83 L149.06,361.25 L148.70,361.67 L148.33,362.09 L147.96,362.50 L147.59,362.92 L147.23,363.34 L146.86,363.76 L146.49,364.18 L146.13,364.60 L145.76,365.02 L145.39,365.44 L145.02,365.85 L144.66,366.27 L144.29,366.69 L143.92,367.11 L143.56,367.53 L143.19,367.96 L142.82,368.38 L142.45,368.80 L142.09,369.22 L141.72,369.64 L141.35,370.06 L140.99,370.48 L140.62,370.91 L140.25,371.33 L139.88,371.75 L139.52,372.17 L139.15,372.60 L138.78,373.02 L138.42,373.44 L138.05,373.87 L137.68,374.29 L137.32,374.72 L136.95,375.14 L136.58,375.56 L136.21,375.99 L135.85,376.41 L135.48,376.84 L135.11,377.27 L134.75,377.69 L134.38,378.12 L134.01,378.54 L133.64,378.97 L133.28,379.40 L132.91,379.82 L132.54,380.25 L132.18,380.68 L131.81,381.11 L131.44,381.53 L131.07,381.96 L130.71,382.39 L130.34,382.82 L129.97,383.25 L129.61,383.68 L129.24,384.11 L128.87,384.54 L128.50,384.97 L128.14,385.40 L127.77,385.83 L127.40,386.26 L127.04,386.69 L126.67,387.12 L126.30,387.55 L125.94,387.98 L125.57,388.42 L125.20,388.85 L124.83,389.28 L124.47,389.71 L124.10,390.15 L123.73,390.58 L123.37,391.01 L123.00,391.45 L122.63,391.88 L122.26,392.32 L121.90,392.75 L121.53,393.19 L121.16,393.62 L120.80,394.06 L120.43,394.49 L120.06,394.93 L119.69,395.36 L119.33,395.80 L118.96,396.24 L118.59,396.67 L118.23,397.11 L117.86,397.55 L117.49,397.99 L117.12,398.43 L116.76,398.86 L116.39,399.30 L116.02,399.74 L115.66,400.18 L115.29,400.62 L114.92,401.06 L114.56,401.50 L114.19,401.94 L113.82,402.38 L113.45,402.82 L113.09,403.26 L112.72,403.71 L112.35,404.15 L111.99,404.59 L111.62,405.03 L111.25,405.47 L110.88,405.92 L110.52,406.36 L110.15,406.80 L109.78,407.25 L109.42,407.69 L109.05,408.14 L108.68,408.58 L108.31,409.03 L107.95,409.47 L107.58,409.92 L107.21,410.36 L106.85,410.81 L106.48,411.26 L106.11,411.70 L105.74,412.15 L105.38,412.60 L105.01,413.04 L104.64,413.49 L104.28,413.94 L103.91,414.39 L103.52,414.86 L103.17,415.28 L102.81,415.73 L102.44,416.18 L102.07,416.63 L101.71,417.08 L101.34,417.53 L100.97,417.98 L100.61,418.42 L100.24,418.87 L99.87,419.32 L99.50,419.77 L99.12,420.24 L98.77,420.66 L98.40,421.11 L98.04,421.56 L97.66,422.01 L97.30,422.44 L96.93,422.88 L96.57,423.30 L96.20,423.70" stroke="#38D8DC" stroke-width="3.0" fill="none" stroke-linecap="round" stroke-linejoin="round" stroke-dasharray="9.60 9.29 9.60 9.86 9.60 11.37 9.60 12.33 9.60 12.46 9.60 12.54 9.60 13.25 9.60 13.31 9.60 11.56 9.60 11.22 9.60 12.68 9.60 12.54 9.60 12.59 9.60 13.07 9.60 11.77 9.60 11.47 9.60 12.15 9.60 12.39 9.60 12.53 9.60 11.88 9.60 10.88 9.60 10.03 9.60 9.52 9.60 9.27 9.60 5000.00" stroke-dashoffset="-0.38"/>
<rect x="81.6" y="42.0" width="396.4" height="396.3" fill="none" stroke="#222" stroke-width="1.5" stroke-linejoin="round"/>
<line x1="96.20" y1="438.3" x2="96.20" y2="447.8" stroke="#222" stroke-width="1.5"/>
<line x1="81.6" y1="423.70" x2="72.1" y2="423.70" stroke="#222" stroke-width="1.5"/>
<line x1="169.62" y1="438.3" x2="169.62" y2="447.8" stroke="#222" stroke-width="1.5"/>
<line x1="81.6" y1="350.30" x2="72.1" y2="350.30" stroke="#222" stroke-width="1.5"/>
<line x1="243.04" y1="438.3" x2="243.04" y2="447.8" stroke="#222" stroke-width="1.5"/>
<line x1="81.6" y1="276.90" x2="72.1" y2="276.90" stroke="#222" stroke-width="1.5"/>
<line x1="316.46" y1="438.3" x2="316.46" y2="447.8" stroke="#222" stroke-width="1.5"/>
<line x1="81.6" y1="203.50" x2="72.1" y2="203.50" stroke="#222" stroke-width="1.5"/>
<line x1="389.88" y1="438.3" x2="389.88" y2="447.8" stroke="#222" stroke-width="1.5"/>
<line x1="81.6" y1="130.10" x2="72.1" y2="130.10" stroke="#222" stroke-width="1.5"/>
<line x1="463.30" y1="438.3" x2="463.30" y2="447.8" stroke="#222" stroke-width="1.5"/>
<line x1="81.6" y1="56.70" x2="72.1" y2="56.70" stroke="#222" stroke-width="1.5"/>
<text x="96.20" y="474" font-size="16" text-anchor="middle">0.0</text>
<text transform="translate(58.0,422.90) rotate(-90)" font-size="16" text-anchor="middle">0.0</text>
<text x="169.62" y="474" font-size="16" text-anchor="middle">0.2</text>
<text transform="translate(58.0,349.50) rotate(-90)" font-size="16" text-anchor="middle">0.2</text>
<text x="243.04" y="474" font-size="16" text-anchor="middle">0.4</text>
<text transform="translate(58.0,276.10) rotate(-90)" font-size="16" text-anchor="middle">0.4</text>
<text x="316.46" y="474" font-size="16" text-anchor="middle">0.6</text>
<text transform="translate(58.0,202.70) rotate(-90)" font-size="16" text-anchor="middle">0.6</text>
<text x="389.88" y="474" font-size="16" text-anchor="middle">0.8</text>
<text transform="translate(58.0,129.30) rotate(-90)" font-size="16" text-anchor="middle">0.8</text>
<text x="463.30" y="474" font-size="16" text-anchor="middle">1.0</text>
<text transform="translate(58.0,55.90) rotate(-90)" font-size="16" text-anchor="middle">1.0</text>
<text x="279" y="504.2" font-size="16" text-anchor="middle">1-Specificity</text>
<text transform="translate(28,239.2) rotate(-90)" font-size="16.6" text-anchor="middle">Sensitivity</text>
<line x1="331.3" y1="300.00" x2="361.4" y2="300.00" stroke="#C00000" stroke-width="3" stroke-linecap="round"/>
<text x="377" y="305.40" font-size="16.8">Composite</text>
<line x1="331.3" y1="323.68" x2="361.4" y2="323.68" stroke="#F0EE30" stroke-width="3" stroke-linecap="round"/>
<text x="377" y="329.90" font-size="16.8">BUN</text>
<line x1="331.3" y1="347.36" x2="361.4" y2="347.36" stroke="#C410C8" stroke-width="3" stroke-linecap="round"/>
<text x="377" y="352.10" font-size="16.8">BILI<tspan font-size="12.3" dy="4.6" dx="-0.8">T</tspan></text>
<line x1="331.3" y1="371.04" x2="361.4" y2="371.04" stroke="#0000A8" stroke-width="3" stroke-linecap="round"/>
<text x="377" y="377.90" font-size="16.8">LDH</text>
<line x1="331.3" y1="394.72" x2="361.4" y2="394.72" stroke="#38D8DC" stroke-width="3" stroke-linecap="round"/>
<text x="377" y="400.90" font-size="16.8">HbF</text>
</svg>
</body></html>
